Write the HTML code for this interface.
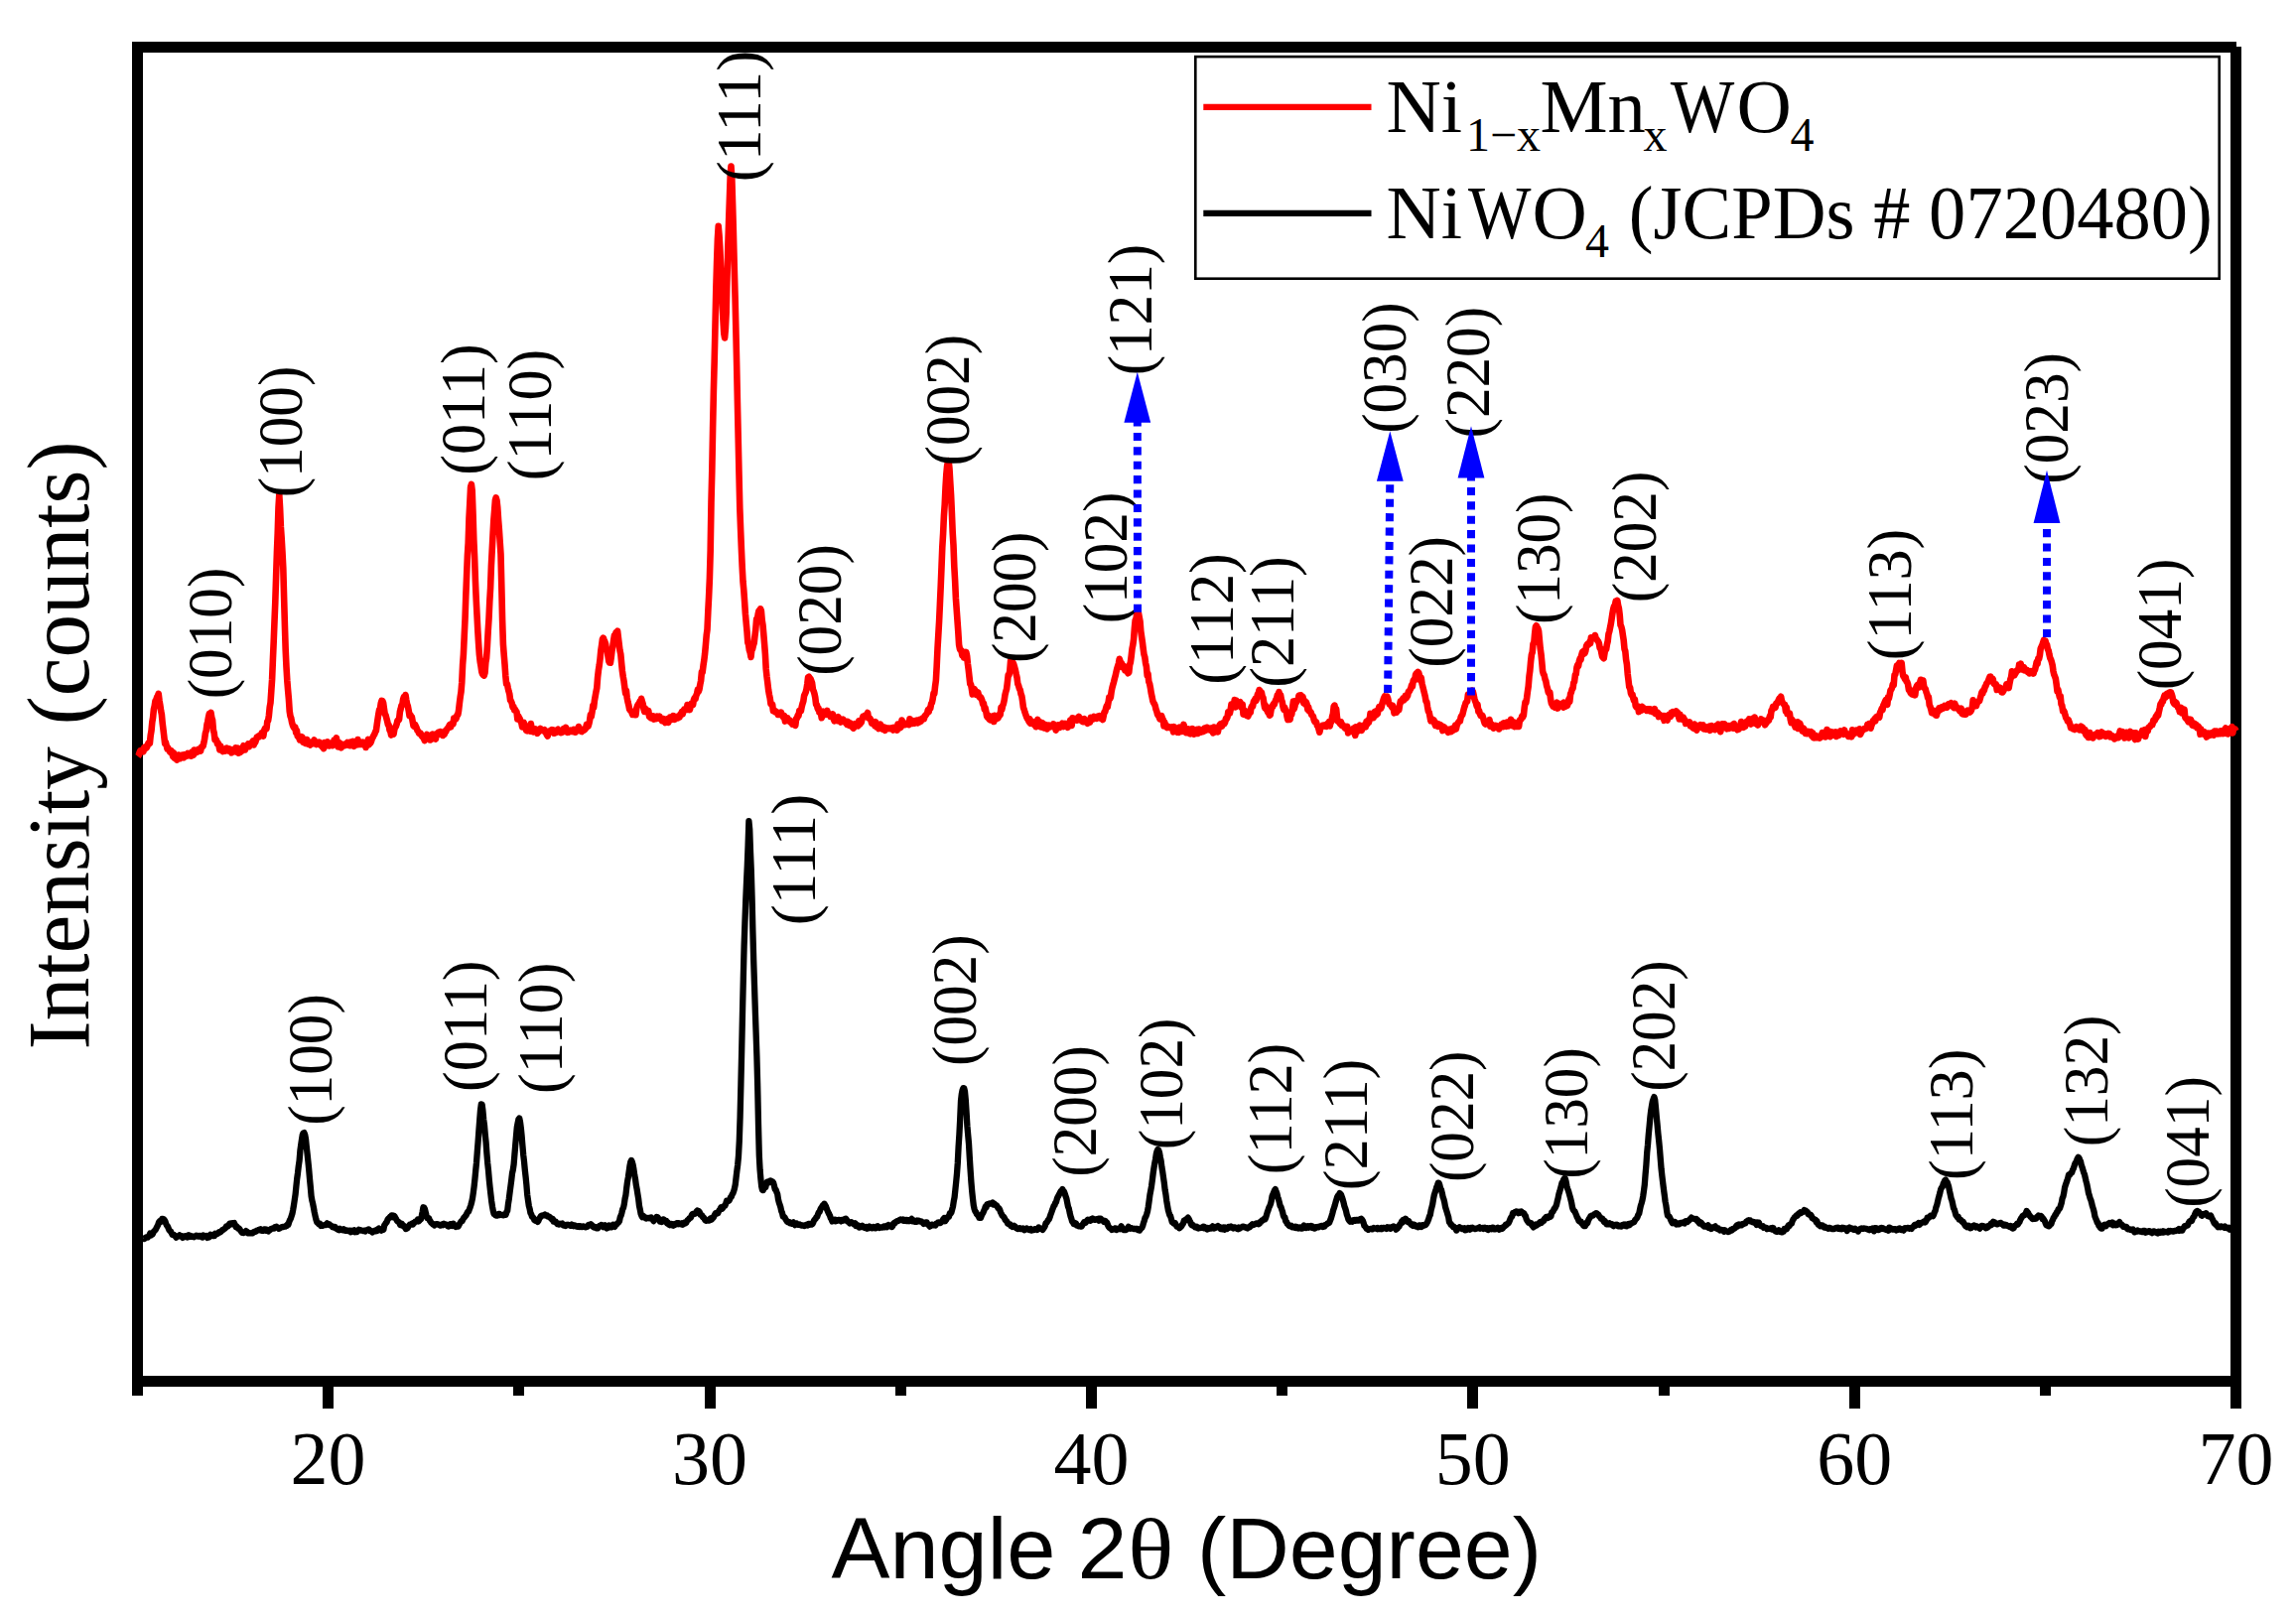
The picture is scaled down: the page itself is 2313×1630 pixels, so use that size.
<!DOCTYPE html>
<html><head><meta charset="utf-8"><title>XRD pattern</title>
<style>html,body{margin:0;padding:0;background:#fff}svg{display:block}</style></head>
<body>
<svg width="2313" height="1630" viewBox="0 0 2313 1630">
<rect x="0" y="0" width="2313" height="1630" fill="#fff"/>
<g fill="#000" shape-rendering="crispEdges">
<rect x="133" y="42" width="2120" height="11"/>
<rect x="133" y="1386" width="2125" height="10.9"/>
<rect x="133" y="42" width="11" height="1364"/>
<rect x="2247" y="47" width="11" height="1372"/>
<rect x="325.1" y="1390" width="11" height="29"/>
<rect x="709.5" y="1390" width="11" height="29"/>
<rect x="1093.9" y="1390" width="11" height="29"/>
<rect x="1478.3" y="1390" width="11" height="29"/>
<rect x="1862.7" y="1390" width="11" height="29"/>
<rect x="517.3" y="1390" width="11" height="16"/>
<rect x="901.7" y="1390" width="11" height="16"/>
<rect x="1286.1" y="1390" width="11" height="16"/>
<rect x="1670.5" y="1390" width="11" height="16"/>
<rect x="2054.9" y="1390" width="11" height="16"/>
</g>
<path d="M144.0,1247.6 L144.8,1248.1 L145.6,1247.9 L146.4,1246.8 L147.2,1246.6 L148.0,1246.3 L148.8,1246.6 L149.6,1245.5 L150.4,1244.7 L151.2,1242.5 L152.0,1244.6 L152.8,1243.9 L153.6,1243.6 L154.4,1241.7 L155.2,1240.2 L156.0,1239.6 L156.8,1238.8 L157.6,1237.0 L158.4,1235.5 L159.2,1234.0 L160.0,1231.4 L160.8,1230.3 L161.6,1231.2 L162.4,1229.8 L163.2,1228.0 L164.0,1227.9 L164.8,1228.2 L165.6,1229.0 L166.4,1230.4 L167.2,1232.7 L168.0,1234.5 L168.8,1235.4 L169.6,1237.1 L170.4,1239.1 L171.2,1240.1 L172.0,1240.5 L172.8,1242.2 L173.6,1243.8 L174.4,1243.9 L175.2,1243.9 L176.0,1244.9 L176.8,1245.5 L177.6,1246.7 L178.4,1245.6 L179.2,1245.6 L180.0,1245.0 L180.8,1244.3 L181.6,1245.4 L182.4,1245.6 L183.2,1245.3 L184.0,1246.9 L184.8,1246.6 L185.6,1245.8 L186.4,1245.2 L187.2,1245.7 L188.0,1245.1 L188.8,1246.5 L189.6,1246.3 L190.4,1244.3 L191.2,1245.0 L192.0,1244.9 L192.8,1245.8 L193.6,1245.4 L194.4,1245.9 L195.2,1246.3 L196.0,1245.4 L196.8,1245.5 L197.6,1244.7 L198.4,1245.3 L199.2,1244.9 L200.0,1245.6 L200.8,1245.1 L201.6,1244.9 L202.4,1245.7 L203.2,1246.3 L204.0,1246.6 L204.8,1244.5 L205.6,1245.8 L206.4,1245.6 L207.2,1245.2 L208.0,1244.9 L208.8,1246.9 L209.6,1245.9 L210.4,1246.5 L211.2,1245.9 L212.0,1243.8 L212.8,1244.5 L213.6,1244.1 L214.4,1244.9 L215.2,1245.2 L216.0,1245.2 L216.8,1242.8 L217.6,1243.0 L218.4,1243.0 L219.2,1243.0 L220.0,1242.1 L220.8,1241.2 L221.6,1241.5 L222.4,1240.9 L223.2,1240.2 L224.0,1239.1 L224.8,1238.9 L225.6,1238.3 L226.4,1237.7 L227.2,1236.9 L228.0,1235.4 L228.8,1235.1 L229.6,1235.4 L230.4,1234.1 L231.2,1232.8 L232.0,1233.7 L232.8,1232.6 L233.6,1233.1 L234.4,1232.1 L235.2,1232.2 L236.0,1232.0 L236.8,1234.1 L237.6,1236.0 L238.4,1235.5 L239.2,1236.5 L240.0,1237.7 L240.8,1237.4 L241.6,1238.7 L242.4,1239.8 L243.2,1240.9 L244.0,1241.8 L244.8,1241.5 L245.6,1242.0 L246.4,1241.1 L247.2,1241.3 L248.0,1240.2 L248.8,1240.8 L249.6,1242.3 L250.4,1241.8 L251.2,1242.3 L252.0,1242.1 L252.8,1242.4 L253.6,1242.3 L254.4,1242.4 L255.2,1241.5 L256.0,1241.0 L256.8,1240.9 L257.6,1240.7 L258.4,1239.9 L259.2,1239.7 L260.0,1239.3 L260.8,1239.0 L261.6,1238.6 L262.4,1238.2 L263.2,1239.7 L264.0,1239.8 L264.8,1239.9 L265.6,1239.3 L266.4,1238.4 L267.2,1238.3 L268.0,1239.8 L268.8,1238.9 L269.6,1239.8 L270.4,1240.5 L271.2,1239.1 L272.0,1239.1 L272.8,1238.2 L273.6,1237.7 L274.4,1237.5 L275.2,1237.5 L276.0,1237.5 L276.8,1236.2 L277.6,1236.3 L278.4,1235.7 L279.2,1236.6 L280.0,1236.9 L280.8,1237.9 L281.6,1237.6 L282.4,1236.9 L283.2,1236.5 L284.0,1236.2 L284.8,1235.9 L285.6,1236.0 L286.4,1235.6 L287.2,1235.7 L288.0,1234.9 L288.8,1235.0 L289.6,1233.5 L290.4,1233.7 L291.2,1231.2 L292.0,1229.1 L292.8,1227.7 L293.6,1225.3 L294.4,1222.8 L295.2,1218.8 L296.0,1214.1 L296.8,1208.6 L297.6,1203.3 L298.4,1195.3 L299.2,1187.5 L300.0,1181.7 L300.8,1174.6 L301.6,1169.3 L302.4,1159.2 L303.2,1153.3 L304.0,1147.9 L304.8,1143.1 L305.6,1141.4 L306.4,1141.1 L307.2,1143.1 L308.0,1147.3 L308.8,1155.4 L309.6,1162.3 L310.4,1170.0 L311.2,1178.1 L312.0,1187.6 L312.8,1195.7 L313.6,1205.0 L314.4,1209.6 L315.2,1212.8 L316.0,1216.9 L316.8,1221.4 L317.6,1225.1 L318.4,1228.5 L319.2,1231.2 L320.0,1231.8 L320.8,1232.7 L321.6,1233.5 L322.4,1232.8 L323.2,1234.9 L324.0,1234.6 L324.8,1234.9 L325.6,1234.5 L326.4,1234.3 L327.2,1234.1 L328.0,1234.2 L328.8,1233.8 L329.6,1232.4 L330.4,1233.5 L331.2,1233.8 L332.0,1233.5 L332.8,1234.4 L333.6,1234.8 L334.4,1235.2 L335.2,1236.3 L336.0,1236.5 L336.8,1235.8 L337.6,1236.0 L338.4,1237.5 L339.2,1238.1 L340.0,1238.3 L340.8,1239.0 L341.6,1239.2 L342.4,1237.8 L343.2,1238.5 L344.0,1239.0 L344.8,1239.2 L345.6,1239.3 L346.4,1238.3 L347.2,1238.8 L348.0,1239.9 L348.8,1239.9 L349.6,1239.5 L350.4,1240.0 L351.2,1240.0 L352.0,1239.7 L352.8,1239.7 L353.6,1241.3 L354.4,1239.7 L355.2,1240.4 L356.0,1239.9 L356.8,1239.3 L357.6,1241.2 L358.4,1241.0 L359.2,1240.1 L360.0,1240.8 L360.8,1239.8 L361.6,1238.7 L362.4,1239.1 L363.2,1239.3 L364.0,1239.6 L364.8,1239.6 L365.6,1239.9 L366.4,1240.1 L367.2,1239.7 L368.0,1240.4 L368.8,1239.5 L369.6,1239.1 L370.4,1239.1 L371.2,1238.4 L372.0,1238.8 L372.8,1240.1 L373.6,1239.8 L374.4,1240.4 L375.2,1241.3 L376.0,1240.6 L376.8,1240.5 L377.6,1239.7 L378.4,1240.2 L379.2,1239.0 L380.0,1239.9 L380.8,1238.2 L381.6,1237.5 L382.4,1238.8 L383.2,1239.2 L384.0,1239.7 L384.8,1238.3 L385.6,1238.2 L386.4,1238.7 L387.2,1234.3 L388.0,1233.4 L388.8,1231.8 L389.6,1231.3 L390.4,1228.9 L391.2,1227.6 L392.0,1227.1 L392.8,1226.0 L393.6,1226.3 L394.4,1224.5 L395.2,1224.5 L396.0,1226.1 L396.8,1224.8 L397.6,1225.6 L398.4,1227.1 L399.2,1228.3 L400.0,1229.9 L400.8,1230.6 L401.6,1230.9 L402.4,1232.1 L403.2,1234.1 L404.0,1234.2 L404.8,1232.8 L405.6,1234.7 L406.4,1234.5 L407.2,1235.8 L408.0,1236.2 L408.8,1238.0 L409.6,1237.7 L410.4,1237.4 L411.2,1236.1 L412.0,1234.6 L412.8,1233.6 L413.6,1233.8 L414.4,1233.2 L415.2,1232.6 L416.0,1233.4 L416.8,1232.4 L417.6,1231.6 L418.4,1230.7 L419.2,1230.6 L420.0,1230.3 L420.8,1228.6 L421.6,1230.4 L422.4,1229.8 L423.2,1228.8 L424.0,1228.2 L424.8,1224.9 L425.6,1221.1 L426.4,1216.3 L427.2,1216.5 L428.0,1218.2 L428.8,1221.4 L429.6,1224.6 L430.4,1227.1 L431.2,1227.0 L432.0,1227.1 L432.8,1229.5 L433.6,1230.3 L434.4,1232.0 L435.2,1232.2 L436.0,1233.2 L436.8,1233.1 L437.6,1234.5 L438.4,1233.6 L439.2,1233.3 L440.0,1233.1 L440.8,1233.1 L441.6,1233.7 L442.4,1233.7 L443.2,1234.5 L444.0,1234.6 L444.8,1233.8 L445.6,1233.3 L446.4,1234.1 L447.2,1232.9 L448.0,1233.6 L448.8,1233.5 L449.6,1233.6 L450.4,1234.3 L451.2,1235.4 L452.0,1235.5 L452.8,1234.9 L453.6,1233.1 L454.4,1233.3 L455.2,1233.8 L456.0,1235.0 L456.8,1232.8 L457.6,1234.7 L458.4,1235.0 L459.2,1235.9 L460.0,1235.3 L460.8,1235.3 L461.6,1235.6 L462.4,1234.0 L463.2,1232.5 L464.0,1231.4 L464.8,1230.1 L465.6,1230.0 L466.4,1228.4 L467.2,1226.8 L468.0,1226.2 L468.8,1225.0 L469.6,1224.2 L470.4,1222.3 L471.2,1220.9 L472.0,1220.7 L472.8,1218.5 L473.6,1216.4 L474.4,1213.9 L475.2,1210.9 L476.0,1207.1 L476.8,1201.6 L477.6,1195.4 L478.4,1187.9 L479.2,1179.4 L480.0,1171.3 L480.8,1160.3 L481.6,1150.2 L482.4,1139.1 L483.2,1128.6 L484.0,1118.3 L484.8,1112.4 L485.6,1112.7 L486.4,1118.7 L487.2,1127.8 L488.0,1133.7 L488.8,1143.3 L489.6,1150.9 L490.4,1161.9 L491.2,1171.6 L492.0,1179.0 L492.8,1188.4 L493.6,1196.2 L494.4,1203.3 L495.2,1210.2 L496.0,1215.5 L496.8,1219.8 L497.6,1223.1 L498.4,1223.0 L499.2,1224.3 L500.0,1224.6 L500.8,1224.6 L501.6,1224.2 L502.4,1223.0 L503.2,1223.0 L504.0,1224.0 L504.8,1223.8 L505.6,1223.8 L506.4,1224.2 L507.2,1224.3 L508.0,1223.5 L508.8,1223.5 L509.6,1223.7 L510.4,1221.0 L511.2,1219.7 L512.0,1212.7 L512.8,1207.7 L513.6,1201.1 L514.4,1195.1 L515.2,1189.0 L516.0,1182.0 L516.8,1178.5 L517.6,1173.0 L518.4,1163.3 L519.2,1153.7 L520.0,1144.6 L520.8,1135.5 L521.6,1131.4 L522.4,1127.6 L523.2,1126.5 L524.0,1130.2 L524.8,1136.4 L525.6,1144.3 L526.4,1154.1 L527.2,1163.3 L528.0,1170.0 L528.8,1178.6 L529.6,1185.7 L530.4,1193.7 L531.2,1203.6 L532.0,1209.2 L532.8,1214.7 L533.6,1217.7 L534.4,1221.9 L535.2,1223.3 L536.0,1225.7 L536.8,1226.3 L537.6,1227.3 L538.4,1229.1 L539.2,1229.7 L540.0,1230.2 L540.8,1229.9 L541.6,1231.0 L542.4,1229.9 L543.2,1227.8 L544.0,1226.7 L544.8,1225.2 L545.6,1224.7 L546.4,1224.4 L547.2,1224.5 L548.0,1224.1 L548.8,1223.6 L549.6,1224.5 L550.4,1224.6 L551.2,1224.5 L552.0,1225.5 L552.8,1225.4 L553.6,1225.9 L554.4,1226.8 L555.2,1227.2 L556.0,1228.4 L556.8,1228.0 L557.6,1230.5 L558.4,1230.2 L559.2,1231.0 L560.0,1230.8 L560.8,1232.4 L561.6,1233.1 L562.4,1233.3 L563.2,1233.6 L564.0,1232.8 L564.8,1233.2 L565.6,1233.0 L566.4,1232.6 L567.2,1234.2 L568.0,1234.5 L568.8,1234.8 L569.6,1235.0 L570.4,1234.0 L571.2,1233.9 L572.0,1233.7 L572.8,1234.2 L573.6,1234.3 L574.4,1234.7 L575.2,1234.9 L576.0,1233.6 L576.8,1234.3 L577.6,1235.1 L578.4,1234.3 L579.2,1234.5 L580.0,1235.3 L580.8,1235.6 L581.6,1235.8 L582.4,1235.2 L583.2,1235.1 L584.0,1235.9 L584.8,1235.2 L585.6,1235.6 L586.4,1236.1 L587.2,1235.3 L588.0,1235.3 L588.8,1235.8 L589.6,1236.3 L590.4,1236.3 L591.2,1235.9 L592.0,1235.7 L592.8,1234.0 L593.6,1233.8 L594.4,1233.9 L595.2,1233.3 L596.0,1233.9 L596.8,1235.1 L597.6,1236.0 L598.4,1236.6 L599.2,1235.9 L600.0,1236.3 L600.8,1237.2 L601.6,1236.4 L602.4,1237.1 L603.2,1236.2 L604.0,1234.8 L604.8,1234.7 L605.6,1234.0 L606.4,1235.2 L607.2,1234.5 L608.0,1236.1 L608.8,1235.7 L609.6,1234.4 L610.4,1236.4 L611.2,1237.5 L612.0,1236.4 L612.8,1236.7 L613.6,1234.5 L614.4,1235.7 L615.2,1235.1 L616.0,1236.3 L616.8,1234.7 L617.6,1233.8 L618.4,1235.2 L619.2,1235.8 L620.0,1233.7 L620.8,1233.9 L621.6,1233.0 L622.4,1232.0 L623.2,1231.3 L624.0,1230.0 L624.8,1226.1 L625.6,1224.5 L626.4,1221.8 L627.2,1218.3 L628.0,1216.8 L628.8,1213.1 L629.6,1207.5 L630.4,1204.0 L631.2,1196.9 L632.0,1190.7 L632.8,1186.2 L633.6,1180.6 L634.4,1174.9 L635.2,1170.8 L636.0,1168.9 L636.8,1170.5 L637.6,1173.3 L638.4,1177.8 L639.2,1183.7 L640.0,1187.7 L640.8,1193.7 L641.6,1197.8 L642.4,1203.0 L643.2,1207.8 L644.0,1214.9 L644.8,1218.5 L645.6,1222.9 L646.4,1225.0 L647.2,1226.2 L648.0,1224.9 L648.8,1225.8 L649.6,1226.2 L650.4,1227.2 L651.2,1227.5 L652.0,1226.9 L652.8,1227.2 L653.6,1226.9 L654.4,1227.4 L655.2,1226.8 L656.0,1226.4 L656.8,1227.4 L657.6,1228.6 L658.4,1230.1 L659.2,1228.3 L660.0,1228.2 L660.8,1228.2 L661.6,1225.9 L662.4,1226.3 L663.2,1227.3 L664.0,1228.6 L664.8,1230.6 L665.6,1230.2 L666.4,1230.9 L667.2,1229.9 L668.0,1228.4 L668.8,1228.6 L669.6,1230.5 L670.4,1230.1 L671.2,1229.9 L672.0,1232.3 L672.8,1231.6 L673.6,1233.5 L674.4,1234.1 L675.2,1233.2 L676.0,1233.0 L676.8,1234.1 L677.6,1233.4 L678.4,1234.6 L679.2,1233.3 L680.0,1233.9 L680.8,1232.9 L681.6,1232.3 L682.4,1232.1 L683.2,1233.2 L684.0,1232.3 L684.8,1233.2 L685.6,1233.1 L686.4,1233.5 L687.2,1232.2 L688.0,1233.6 L688.8,1232.3 L689.6,1231.6 L690.4,1232.4 L691.2,1231.9 L692.0,1230.2 L692.8,1229.0 L693.6,1228.6 L694.4,1227.5 L695.2,1227.0 L696.0,1226.6 L696.8,1224.2 L697.6,1223.0 L698.4,1222.8 L699.2,1222.7 L700.0,1222.9 L700.8,1222.2 L701.6,1220.5 L702.4,1219.7 L703.2,1220.6 L704.0,1220.2 L704.8,1221.2 L705.6,1223.9 L706.4,1224.0 L707.2,1224.4 L708.0,1226.3 L708.8,1226.4 L709.6,1227.7 L710.4,1229.2 L711.2,1229.8 L712.0,1229.7 L712.8,1229.6 L713.6,1229.2 L714.4,1229.5 L715.2,1227.7 L716.0,1227.3 L716.8,1228.6 L717.6,1226.8 L718.4,1227.0 L719.2,1225.6 L720.0,1223.7 L720.8,1222.3 L721.6,1222.8 L722.4,1222.5 L723.2,1222.1 L724.0,1220.3 L724.8,1219.1 L725.6,1217.8 L726.4,1216.3 L727.2,1218.0 L728.0,1217.1 L728.8,1215.8 L729.6,1214.8 L730.4,1214.7 L731.2,1212.6 L732.0,1209.8 L732.8,1210.3 L733.6,1210.2 L734.4,1209.7 L735.2,1208.3 L736.0,1206.0 L736.8,1205.6 L737.6,1203.3 L738.4,1202.2 L739.2,1200.0 L740.0,1197.1 L740.8,1193.1 L741.6,1186.2 L742.4,1179.4 L743.2,1173.3 L744.0,1164.6 L744.8,1149.1 L745.6,1125.0 L746.4,1092.5 L747.2,1057.7 L748.0,1020.5 L748.8,986.4 L749.6,953.7 L750.4,930.2 L751.2,908.3 L752.0,889.7 L752.8,872.2 L753.6,851.6 L754.4,827.1 L755.2,835.2 L756.0,858.1 L756.8,877.3 L757.6,904.8 L758.4,938.3 L759.2,967.7 L760.0,992.5 L760.8,1017.3 L761.6,1040.4 L762.4,1064.0 L763.2,1093.8 L764.0,1132.5 L764.8,1164.0 L765.6,1178.6 L766.4,1187.8 L767.2,1195.4 L768.0,1198.9 L768.8,1199.1 L769.6,1197.1 L770.4,1195.0 L771.2,1196.2 L772.0,1192.8 L772.8,1190.7 L773.6,1191.2 L774.4,1191.3 L775.2,1190.0 L776.0,1189.5 L776.8,1189.6 L777.6,1191.0 L778.4,1190.6 L779.2,1191.8 L780.0,1194.9 L780.8,1198.2 L781.6,1198.6 L782.4,1201.0 L783.2,1202.9 L784.0,1208.2 L784.8,1211.4 L785.6,1213.8 L786.4,1216.3 L787.2,1220.2 L788.0,1221.9 L788.8,1225.5 L789.6,1225.6 L790.4,1226.3 L791.2,1227.8 L792.0,1229.1 L792.8,1230.5 L793.6,1231.2 L794.4,1231.4 L795.2,1231.2 L796.0,1232.3 L796.8,1231.9 L797.6,1232.6 L798.4,1231.9 L799.2,1231.4 L800.0,1232.9 L800.8,1234.1 L801.6,1232.8 L802.4,1232.4 L803.2,1233.5 L804.0,1233.8 L804.8,1233.9 L805.6,1233.5 L806.4,1234.2 L807.2,1234.7 L808.0,1234.6 L808.8,1234.4 L809.6,1234.9 L810.4,1235.0 L811.2,1234.5 L812.0,1234.0 L812.8,1233.7 L813.6,1234.5 L814.4,1232.8 L815.2,1232.9 L816.0,1233.7 L816.8,1233.2 L817.6,1233.6 L818.4,1233.1 L819.2,1231.7 L820.0,1229.5 L820.8,1228.6 L821.6,1227.8 L822.4,1226.2 L823.2,1225.9 L824.0,1223.4 L824.8,1221.3 L825.6,1220.9 L826.4,1218.5 L827.2,1216.9 L828.0,1215.9 L828.8,1214.3 L829.6,1214.6 L830.4,1212.7 L831.2,1214.0 L832.0,1215.4 L832.8,1217.7 L833.6,1219.6 L834.4,1221.4 L835.2,1223.1 L836.0,1224.5 L836.8,1227.1 L837.6,1228.2 L838.4,1230.4 L839.2,1230.1 L840.0,1229.6 L840.8,1228.8 L841.6,1230.2 L842.4,1229.1 L843.2,1229.8 L844.0,1229.3 L844.8,1229.0 L845.6,1228.9 L846.4,1229.5 L847.2,1230.3 L848.0,1229.0 L848.8,1229.7 L849.6,1228.8 L850.4,1229.3 L851.2,1227.9 L852.0,1227.6 L852.8,1228.5 L853.6,1230.4 L854.4,1230.9 L855.2,1231.3 L856.0,1232.4 L856.8,1231.4 L857.6,1231.1 L858.4,1232.1 L859.2,1232.1 L860.0,1232.9 L860.8,1233.7 L861.6,1232.4 L862.4,1235.1 L863.2,1234.8 L864.0,1234.4 L864.8,1234.6 L865.6,1236.6 L866.4,1236.2 L867.2,1236.2 L868.0,1236.2 L868.8,1234.9 L869.6,1235.9 L870.4,1236.1 L871.2,1236.9 L872.0,1237.1 L872.8,1236.2 L873.6,1237.6 L874.4,1236.4 L875.2,1237.2 L876.0,1235.5 L876.8,1236.6 L877.6,1236.5 L878.4,1237.3 L879.2,1237.0 L880.0,1236.0 L880.8,1236.6 L881.6,1237.3 L882.4,1237.3 L883.2,1235.7 L884.0,1235.2 L884.8,1236.3 L885.6,1237.0 L886.4,1236.7 L887.2,1236.3 L888.0,1236.7 L888.8,1236.5 L889.6,1236.4 L890.4,1235.6 L891.2,1236.3 L892.0,1236.0 L892.8,1235.2 L893.6,1236.1 L894.4,1235.1 L895.2,1234.1 L896.0,1234.9 L896.8,1234.9 L897.6,1235.6 L898.4,1236.1 L899.2,1235.2 L900.0,1232.8 L900.8,1232.0 L901.6,1232.2 L902.4,1230.9 L903.2,1230.6 L904.0,1230.0 L904.8,1230.1 L905.6,1229.5 L906.4,1229.0 L907.2,1228.4 L908.0,1229.0 L908.8,1228.7 L909.6,1228.5 L910.4,1229.9 L911.2,1229.8 L912.0,1229.0 L912.8,1229.8 L913.6,1229.0 L914.4,1230.0 L915.2,1229.3 L916.0,1230.1 L916.8,1229.3 L917.6,1228.7 L918.4,1227.9 L919.2,1230.2 L920.0,1229.2 L920.8,1229.9 L921.6,1230.7 L922.4,1230.3 L923.2,1230.8 L924.0,1229.5 L924.8,1230.1 L925.6,1229.7 L926.4,1230.4 L927.2,1230.5 L928.0,1230.3 L928.8,1230.9 L929.6,1231.9 L930.4,1232.9 L931.2,1232.5 L932.0,1232.4 L932.8,1231.3 L933.6,1231.4 L934.4,1233.1 L935.2,1234.0 L936.0,1234.7 L936.8,1235.6 L937.6,1235.0 L938.4,1233.8 L939.2,1233.6 L940.0,1234.3 L940.8,1234.2 L941.6,1233.7 L942.4,1234.4 L943.2,1232.6 L944.0,1232.6 L944.8,1231.6 L945.6,1231.5 L946.4,1231.9 L947.2,1232.1 L948.0,1231.4 L948.8,1230.8 L949.6,1229.6 L950.4,1228.0 L951.2,1227.1 L952.0,1230.3 L952.8,1229.2 L953.6,1228.2 L954.4,1226.5 L955.2,1225.6 L956.0,1225.8 L956.8,1222.4 L957.6,1222.6 L958.4,1221.5 L959.2,1218.4 L960.0,1215.5 L960.8,1210.1 L961.6,1206.2 L962.4,1198.5 L963.2,1190.7 L964.0,1182.4 L964.8,1171.4 L965.6,1155.4 L966.4,1143.0 L967.2,1127.4 L968.0,1109.1 L968.8,1102.1 L969.6,1098.1 L970.4,1096.1 L971.2,1096.3 L972.0,1099.6 L972.8,1108.0 L973.6,1120.6 L974.4,1134.3 L975.2,1143.3 L976.0,1152.1 L976.8,1166.3 L977.6,1178.9 L978.4,1190.6 L979.2,1200.1 L980.0,1207.7 L980.8,1214.3 L981.6,1218.0 L982.4,1220.3 L983.2,1221.3 L984.0,1223.1 L984.8,1223.9 L985.6,1224.2 L986.4,1226.9 L987.2,1226.9 L988.0,1226.8 L988.8,1224.6 L989.6,1222.9 L990.4,1221.7 L991.2,1219.8 L992.0,1217.8 L992.8,1215.4 L993.6,1216.2 L994.4,1213.3 L995.2,1213.1 L996.0,1213.0 L996.8,1212.5 L997.6,1212.6 L998.4,1212.7 L999.2,1212.4 L1000.0,1211.6 L1000.8,1213.6 L1001.6,1212.5 L1002.4,1213.9 L1003.2,1213.9 L1004.0,1214.4 L1004.8,1215.8 L1005.6,1217.3 L1006.4,1217.2 L1007.2,1218.7 L1008.0,1221.3 L1008.8,1222.7 L1009.6,1224.7 L1010.4,1225.2 L1011.2,1226.0 L1012.0,1227.4 L1012.8,1229.1 L1013.6,1229.9 L1014.4,1230.6 L1015.2,1232.7 L1016.0,1233.2 L1016.8,1233.3 L1017.6,1233.4 L1018.4,1235.0 L1019.2,1235.1 L1020.0,1235.9 L1020.8,1235.3 L1021.6,1234.8 L1022.4,1235.3 L1023.2,1236.5 L1024.0,1237.4 L1024.8,1237.7 L1025.6,1238.0 L1026.4,1237.5 L1027.2,1237.2 L1028.0,1238.1 L1028.8,1238.0 L1029.6,1238.2 L1030.4,1237.5 L1031.2,1238.5 L1032.0,1239.3 L1032.8,1238.7 L1033.6,1237.6 L1034.4,1237.5 L1035.2,1238.1 L1036.0,1238.7 L1036.8,1239.2 L1037.6,1238.9 L1038.4,1238.2 L1039.2,1239.5 L1040.0,1238.7 L1040.8,1238.9 L1041.6,1239.0 L1042.4,1238.2 L1043.2,1238.2 L1044.0,1238.5 L1044.8,1239.1 L1045.6,1238.5 L1046.4,1236.5 L1047.2,1237.7 L1048.0,1237.6 L1048.8,1238.0 L1049.6,1238.0 L1050.4,1238.9 L1051.2,1237.6 L1052.0,1236.5 L1052.8,1235.0 L1053.6,1232.1 L1054.4,1231.8 L1055.2,1230.6 L1056.0,1229.1 L1056.8,1228.3 L1057.6,1226.2 L1058.4,1223.6 L1059.2,1221.6 L1060.0,1219.2 L1060.8,1217.1 L1061.6,1214.9 L1062.4,1214.2 L1063.2,1211.7 L1064.0,1210.9 L1064.8,1207.7 L1065.6,1205.8 L1066.4,1204.5 L1067.2,1202.9 L1068.0,1201.3 L1068.8,1199.9 L1069.6,1199.6 L1070.4,1198.0 L1071.2,1200.2 L1072.0,1200.5 L1072.8,1202.8 L1073.6,1205.2 L1074.4,1207.5 L1075.2,1211.7 L1076.0,1215.6 L1076.8,1217.5 L1077.6,1221.5 L1078.4,1224.9 L1079.2,1227.3 L1080.0,1230.3 L1080.8,1231.2 L1081.6,1232.8 L1082.4,1231.8 L1083.2,1233.5 L1084.0,1232.6 L1084.8,1234.5 L1085.6,1234.5 L1086.4,1235.2 L1087.2,1235.4 L1088.0,1235.3 L1088.8,1235.6 L1089.6,1235.6 L1090.4,1234.0 L1091.2,1232.9 L1092.0,1231.4 L1092.8,1232.0 L1093.6,1231.9 L1094.4,1230.6 L1095.2,1229.4 L1096.0,1228.7 L1096.8,1228.9 L1097.6,1229.5 L1098.4,1229.8 L1099.2,1228.2 L1100.0,1229.0 L1100.8,1227.5 L1101.6,1228.2 L1102.4,1228.4 L1103.2,1228.9 L1104.0,1228.5 L1104.8,1228.2 L1105.6,1228.5 L1106.4,1227.9 L1107.2,1229.6 L1108.0,1227.7 L1108.8,1227.6 L1109.6,1228.5 L1110.4,1229.2 L1111.2,1229.3 L1112.0,1230.9 L1112.8,1231.3 L1113.6,1230.1 L1114.4,1231.1 L1115.2,1231.6 L1116.0,1234.1 L1116.8,1235.8 L1117.6,1236.8 L1118.4,1237.5 L1119.2,1237.6 L1120.0,1238.9 L1120.8,1238.3 L1121.6,1238.5 L1122.4,1238.2 L1123.2,1237.5 L1124.0,1237.4 L1124.8,1238.9 L1125.6,1238.0 L1126.4,1238.0 L1127.2,1237.7 L1128.0,1238.2 L1128.8,1236.8 L1129.6,1235.2 L1130.4,1237.0 L1131.2,1238.3 L1132.0,1239.1 L1132.8,1238.5 L1133.6,1239.1 L1134.4,1238.9 L1135.2,1238.3 L1136.0,1237.0 L1136.8,1235.9 L1137.6,1237.1 L1138.4,1237.7 L1139.2,1236.9 L1140.0,1237.3 L1140.8,1237.7 L1141.6,1237.8 L1142.4,1238.1 L1143.2,1238.0 L1144.0,1237.9 L1144.8,1238.1 L1145.6,1238.0 L1146.4,1239.1 L1147.2,1239.3 L1148.0,1239.6 L1148.8,1238.3 L1149.6,1237.4 L1150.4,1236.8 L1151.2,1234.9 L1152.0,1232.0 L1152.8,1229.7 L1153.6,1226.6 L1154.4,1225.6 L1155.2,1223.2 L1156.0,1220.4 L1156.8,1215.7 L1157.6,1210.0 L1158.4,1203.8 L1159.2,1199.6 L1160.0,1195.2 L1160.8,1189.1 L1161.6,1182.5 L1162.4,1177.0 L1163.2,1172.2 L1164.0,1168.0 L1164.8,1162.6 L1165.6,1159.6 L1166.4,1158.0 L1167.2,1158.8 L1168.0,1161.1 L1168.8,1165.6 L1169.6,1169.5 L1170.4,1175.9 L1171.2,1180.4 L1172.0,1186.1 L1172.8,1191.6 L1173.6,1198.6 L1174.4,1203.1 L1175.2,1209.4 L1176.0,1214.3 L1176.8,1218.8 L1177.6,1221.7 L1178.4,1224.3 L1179.2,1225.2 L1180.0,1228.2 L1180.8,1231.1 L1181.6,1231.3 L1182.4,1232.5 L1183.2,1232.8 L1184.0,1232.4 L1184.8,1234.3 L1185.6,1235.7 L1186.4,1235.6 L1187.2,1235.8 L1188.0,1237.3 L1188.8,1236.6 L1189.6,1236.0 L1190.4,1235.0 L1191.2,1233.5 L1192.0,1232.5 L1192.8,1229.7 L1193.6,1230.1 L1194.4,1228.6 L1195.2,1228.3 L1196.0,1227.5 L1196.8,1226.7 L1197.6,1227.9 L1198.4,1229.7 L1199.2,1231.1 L1200.0,1233.5 L1200.8,1234.4 L1201.6,1234.0 L1202.4,1235.1 L1203.2,1235.3 L1204.0,1236.4 L1204.8,1236.2 L1205.6,1235.8 L1206.4,1237.3 L1207.2,1237.5 L1208.0,1237.3 L1208.8,1237.0 L1209.6,1236.9 L1210.4,1236.8 L1211.2,1236.5 L1212.0,1235.8 L1212.8,1237.3 L1213.6,1236.1 L1214.4,1237.0 L1215.2,1237.7 L1216.0,1238.4 L1216.8,1237.0 L1217.6,1237.9 L1218.4,1237.1 L1219.2,1236.9 L1220.0,1237.4 L1220.8,1236.6 L1221.6,1235.4 L1222.4,1237.2 L1223.2,1237.5 L1224.0,1237.1 L1224.8,1236.0 L1225.6,1236.2 L1226.4,1236.3 L1227.2,1235.2 L1228.0,1236.0 L1228.8,1236.4 L1229.6,1237.9 L1230.4,1236.8 L1231.2,1238.2 L1232.0,1237.5 L1232.8,1236.6 L1233.6,1238.7 L1234.4,1236.6 L1235.2,1237.4 L1236.0,1238.0 L1236.8,1236.9 L1237.6,1236.1 L1238.4,1236.7 L1239.2,1235.9 L1240.0,1235.5 L1240.8,1236.1 L1241.6,1236.8 L1242.4,1237.4 L1243.2,1236.4 L1244.0,1236.5 L1244.8,1237.0 L1245.6,1237.3 L1246.4,1238.0 L1247.2,1238.2 L1248.0,1236.5 L1248.8,1237.7 L1249.6,1237.0 L1250.4,1236.6 L1251.2,1236.0 L1252.0,1235.6 L1252.8,1235.6 L1253.6,1236.3 L1254.4,1236.1 L1255.2,1236.7 L1256.0,1237.0 L1256.8,1237.4 L1257.6,1236.4 L1258.4,1236.0 L1259.2,1236.2 L1260.0,1234.6 L1260.8,1234.5 L1261.6,1233.3 L1262.4,1234.0 L1263.2,1233.7 L1264.0,1233.4 L1264.8,1232.8 L1265.6,1232.3 L1266.4,1232.5 L1267.2,1232.4 L1268.0,1233.2 L1268.8,1232.7 L1269.6,1230.8 L1270.4,1230.9 L1271.2,1229.4 L1272.0,1229.5 L1272.8,1228.7 L1273.6,1227.8 L1274.4,1228.3 L1275.2,1226.6 L1276.0,1223.9 L1276.8,1221.0 L1277.6,1219.0 L1278.4,1216.4 L1279.2,1214.8 L1280.0,1212.9 L1280.8,1209.6 L1281.6,1204.9 L1282.4,1203.2 L1283.2,1201.1 L1284.0,1199.1 L1284.8,1198.2 L1285.6,1200.5 L1286.4,1202.5 L1287.2,1206.0 L1288.0,1208.2 L1288.8,1211.2 L1289.6,1214.9 L1290.4,1215.7 L1291.2,1218.5 L1292.0,1220.7 L1292.8,1224.4 L1293.6,1226.2 L1294.4,1226.3 L1295.2,1230.5 L1296.0,1230.7 L1296.8,1232.8 L1297.6,1233.3 L1298.4,1234.6 L1299.2,1235.2 L1300.0,1235.2 L1300.8,1234.8 L1301.6,1236.3 L1302.4,1236.2 L1303.2,1236.3 L1304.0,1236.7 L1304.8,1235.8 L1305.6,1236.9 L1306.4,1236.1 L1307.2,1236.8 L1308.0,1237.4 L1308.8,1236.8 L1309.6,1236.4 L1310.4,1237.3 L1311.2,1237.7 L1312.0,1237.7 L1312.8,1236.0 L1313.6,1234.5 L1314.4,1235.9 L1315.2,1236.8 L1316.0,1237.1 L1316.8,1236.5 L1317.6,1235.4 L1318.4,1236.6 L1319.2,1235.3 L1320.0,1236.0 L1320.8,1235.2 L1321.6,1236.6 L1322.4,1235.6 L1323.2,1236.8 L1324.0,1237.6 L1324.8,1237.4 L1325.6,1236.2 L1326.4,1236.2 L1327.2,1236.0 L1328.0,1236.4 L1328.8,1235.8 L1329.6,1235.6 L1330.4,1235.2 L1331.2,1234.9 L1332.0,1235.0 L1332.8,1236.0 L1333.6,1235.4 L1334.4,1235.5 L1335.2,1234.0 L1336.0,1233.7 L1336.8,1233.3 L1337.6,1232.3 L1338.4,1232.3 L1339.2,1231.7 L1340.0,1229.5 L1340.8,1227.5 L1341.6,1224.8 L1342.4,1222.1 L1343.2,1218.8 L1344.0,1216.7 L1344.8,1214.0 L1345.6,1211.0 L1346.4,1208.3 L1347.2,1205.8 L1348.0,1204.4 L1348.8,1203.9 L1349.6,1202.1 L1350.4,1202.7 L1351.2,1204.0 L1352.0,1206.3 L1352.8,1208.8 L1353.6,1211.7 L1354.4,1215.2 L1355.2,1217.3 L1356.0,1219.9 L1356.8,1223.6 L1357.6,1225.6 L1358.4,1228.5 L1359.2,1229.6 L1360.0,1230.6 L1360.8,1229.8 L1361.6,1229.7 L1362.4,1230.6 L1363.2,1229.2 L1364.0,1229.2 L1364.8,1229.0 L1365.6,1229.7 L1366.4,1228.9 L1367.2,1229.0 L1368.0,1229.6 L1368.8,1229.6 L1369.6,1228.5 L1370.4,1228.1 L1371.2,1227.7 L1372.0,1228.5 L1372.8,1229.7 L1373.6,1231.9 L1374.4,1234.8 L1375.2,1235.4 L1376.0,1236.7 L1376.8,1237.8 L1377.6,1238.1 L1378.4,1238.8 L1379.2,1238.1 L1380.0,1238.2 L1380.8,1237.8 L1381.6,1238.0 L1382.4,1238.4 L1383.2,1237.9 L1384.0,1237.1 L1384.8,1237.6 L1385.6,1237.6 L1386.4,1237.5 L1387.2,1238.1 L1388.0,1237.2 L1388.8,1238.2 L1389.6,1238.2 L1390.4,1237.6 L1391.2,1237.1 L1392.0,1238.2 L1392.8,1237.8 L1393.6,1237.0 L1394.4,1236.9 L1395.2,1237.4 L1396.0,1237.3 L1396.8,1237.9 L1397.6,1236.4 L1398.4,1237.2 L1399.2,1236.5 L1400.0,1237.3 L1400.8,1237.8 L1401.6,1236.8 L1402.4,1236.0 L1403.2,1235.8 L1404.0,1235.4 L1404.8,1236.0 L1405.6,1236.9 L1406.4,1238.6 L1407.2,1238.0 L1408.0,1237.3 L1408.8,1235.5 L1409.6,1235.4 L1410.4,1233.2 L1411.2,1232.6 L1412.0,1230.5 L1412.8,1231.5 L1413.6,1229.1 L1414.4,1230.2 L1415.2,1229.3 L1416.0,1227.7 L1416.8,1229.0 L1417.6,1230.7 L1418.4,1231.2 L1419.2,1230.2 L1420.0,1231.8 L1420.8,1232.6 L1421.6,1233.7 L1422.4,1234.0 L1423.2,1234.8 L1424.0,1233.5 L1424.8,1233.7 L1425.6,1234.6 L1426.4,1235.6 L1427.2,1235.7 L1428.0,1235.0 L1428.8,1236.2 L1429.6,1234.3 L1430.4,1234.4 L1431.2,1234.9 L1432.0,1235.8 L1432.8,1234.2 L1433.6,1234.2 L1434.4,1234.7 L1435.2,1234.3 L1436.0,1234.1 L1436.8,1233.2 L1437.6,1231.7 L1438.4,1230.2 L1439.2,1228.1 L1440.0,1225.3 L1440.8,1223.9 L1441.6,1219.3 L1442.4,1216.2 L1443.2,1213.0 L1444.0,1208.0 L1444.8,1203.9 L1445.6,1201.4 L1446.4,1199.2 L1447.2,1196.0 L1448.0,1194.2 L1448.8,1191.6 L1449.6,1191.8 L1450.4,1194.1 L1451.2,1197.6 L1452.0,1198.7 L1452.8,1201.9 L1453.6,1205.8 L1454.4,1208.0 L1455.2,1211.3 L1456.0,1215.8 L1456.8,1218.4 L1457.6,1220.9 L1458.4,1223.6 L1459.2,1226.1 L1460.0,1231.4 L1460.8,1231.9 L1461.6,1233.9 L1462.4,1233.9 L1463.2,1234.8 L1464.0,1236.1 L1464.8,1235.9 L1465.6,1237.1 L1466.4,1237.6 L1467.2,1239.6 L1468.0,1238.5 L1468.8,1237.0 L1469.6,1237.3 L1470.4,1236.3 L1471.2,1236.9 L1472.0,1237.2 L1472.8,1238.0 L1473.6,1238.1 L1474.4,1237.4 L1475.2,1237.2 L1476.0,1239.3 L1476.8,1239.0 L1477.6,1239.0 L1478.4,1238.1 L1479.2,1237.0 L1480.0,1237.4 L1480.8,1238.6 L1481.6,1237.0 L1482.4,1237.2 L1483.2,1236.7 L1484.0,1237.4 L1484.8,1237.6 L1485.6,1237.9 L1486.4,1238.2 L1487.2,1237.7 L1488.0,1237.4 L1488.8,1237.3 L1489.6,1236.9 L1490.4,1236.4 L1491.2,1237.6 L1492.0,1237.1 L1492.8,1237.2 L1493.6,1236.9 L1494.4,1238.0 L1495.2,1237.0 L1496.0,1236.7 L1496.8,1237.1 L1497.6,1238.2 L1498.4,1237.4 L1499.2,1238.9 L1500.0,1238.2 L1500.8,1237.1 L1501.6,1237.4 L1502.4,1238.2 L1503.2,1236.7 L1504.0,1236.7 L1504.8,1237.8 L1505.6,1238.4 L1506.4,1238.4 L1507.2,1237.5 L1508.0,1237.2 L1508.8,1236.8 L1509.6,1237.5 L1510.4,1238.7 L1511.2,1237.6 L1512.0,1238.1 L1512.8,1237.1 L1513.6,1237.7 L1514.4,1236.5 L1515.2,1235.7 L1516.0,1235.3 L1516.8,1233.7 L1517.6,1234.0 L1518.4,1232.8 L1519.2,1232.7 L1520.0,1231.6 L1520.8,1229.7 L1521.6,1227.7 L1522.4,1226.1 L1523.2,1225.6 L1524.0,1222.3 L1524.8,1222.6 L1525.6,1221.8 L1526.4,1220.9 L1527.2,1221.3 L1528.0,1220.4 L1528.8,1220.9 L1529.6,1222.1 L1530.4,1220.7 L1531.2,1221.9 L1532.0,1221.6 L1532.8,1220.6 L1533.6,1221.6 L1534.4,1221.8 L1535.2,1222.2 L1536.0,1224.4 L1536.8,1224.8 L1537.6,1228.0 L1538.4,1229.6 L1539.2,1230.7 L1540.0,1231.7 L1540.8,1231.6 L1541.6,1232.4 L1542.4,1232.2 L1543.2,1234.3 L1544.0,1235.1 L1544.8,1236.4 L1545.6,1234.5 L1546.4,1235.3 L1547.2,1233.6 L1548.0,1234.4 L1548.8,1233.6 L1549.6,1233.3 L1550.4,1232.4 L1551.2,1231.3 L1552.0,1230.9 L1552.8,1231.8 L1553.6,1230.9 L1554.4,1230.0 L1555.2,1229.9 L1556.0,1227.7 L1556.8,1226.9 L1557.6,1226.1 L1558.4,1227.0 L1559.2,1227.1 L1560.0,1225.5 L1560.8,1226.1 L1561.6,1225.9 L1562.4,1225.3 L1563.2,1221.3 L1564.0,1221.1 L1564.8,1220.0 L1565.6,1217.7 L1566.4,1217.4 L1567.2,1215.7 L1568.0,1213.9 L1568.8,1210.1 L1569.6,1207.2 L1570.4,1203.0 L1571.2,1200.5 L1572.0,1197.6 L1572.8,1194.5 L1573.6,1191.4 L1574.4,1190.8 L1575.2,1188.3 L1576.0,1187.2 L1576.8,1187.4 L1577.6,1190.3 L1578.4,1194.9 L1579.2,1197.7 L1580.0,1199.7 L1580.8,1202.5 L1581.6,1205.3 L1582.4,1208.4 L1583.2,1211.7 L1584.0,1216.4 L1584.8,1218.6 L1585.6,1219.9 L1586.4,1220.4 L1587.2,1222.2 L1588.0,1224.1 L1588.8,1226.3 L1589.6,1227.4 L1590.4,1229.7 L1591.2,1230.5 L1592.0,1231.1 L1592.8,1230.8 L1593.6,1232.6 L1594.4,1233.3 L1595.2,1234.7 L1596.0,1235.1 L1596.8,1235.2 L1597.6,1233.7 L1598.4,1231.8 L1599.2,1232.2 L1600.0,1229.6 L1600.8,1227.9 L1601.6,1226.8 L1602.4,1225.2 L1603.2,1225.1 L1604.0,1224.3 L1604.8,1224.5 L1605.6,1223.7 L1606.4,1223.1 L1607.2,1222.9 L1608.0,1222.1 L1608.8,1222.5 L1609.6,1223.5 L1610.4,1223.9 L1611.2,1225.5 L1612.0,1226.2 L1612.8,1227.5 L1613.6,1228.0 L1614.4,1227.8 L1615.2,1229.5 L1616.0,1231.0 L1616.8,1230.2 L1617.6,1231.9 L1618.4,1233.3 L1619.2,1233.0 L1620.0,1233.4 L1620.8,1233.4 L1621.6,1232.4 L1622.4,1233.2 L1623.2,1233.6 L1624.0,1233.3 L1624.8,1234.6 L1625.6,1235.2 L1626.4,1234.1 L1627.2,1234.0 L1628.0,1233.9 L1628.8,1233.6 L1629.6,1235.0 L1630.4,1235.3 L1631.2,1234.7 L1632.0,1235.3 L1632.8,1235.5 L1633.6,1235.5 L1634.4,1234.1 L1635.2,1233.7 L1636.0,1233.7 L1636.8,1233.5 L1637.6,1235.1 L1638.4,1235.3 L1639.2,1233.6 L1640.0,1233.2 L1640.8,1232.9 L1641.6,1234.1 L1642.4,1233.3 L1643.2,1232.5 L1644.0,1232.2 L1644.8,1231.7 L1645.6,1231.5 L1646.4,1230.9 L1647.2,1229.0 L1648.0,1228.2 L1648.8,1227.5 L1649.6,1225.8 L1650.4,1223.6 L1651.2,1222.6 L1652.0,1218.7 L1652.8,1214.9 L1653.6,1212.4 L1654.4,1209.5 L1655.2,1205.3 L1656.0,1199.6 L1656.8,1193.5 L1657.6,1183.1 L1658.4,1173.7 L1659.2,1161.2 L1660.0,1153.2 L1660.8,1142.7 L1661.6,1134.5 L1662.4,1125.6 L1663.2,1119.0 L1664.0,1114.0 L1664.8,1109.5 L1665.6,1107.2 L1666.4,1105.1 L1667.2,1107.9 L1668.0,1115.9 L1668.8,1125.1 L1669.6,1133.1 L1670.4,1142.0 L1671.2,1149.3 L1672.0,1157.8 L1672.8,1167.8 L1673.6,1177.7 L1674.4,1184.8 L1675.2,1191.6 L1676.0,1198.2 L1676.8,1204.0 L1677.6,1210.5 L1678.4,1214.5 L1679.2,1220.4 L1680.0,1224.8 L1680.8,1225.2 L1681.6,1225.6 L1682.4,1227.0 L1683.2,1229.2 L1684.0,1230.8 L1684.8,1232.2 L1685.6,1232.0 L1686.4,1230.8 L1687.2,1230.9 L1688.0,1232.6 L1688.8,1233.4 L1689.6,1232.4 L1690.4,1233.4 L1691.2,1233.4 L1692.0,1233.0 L1692.8,1232.1 L1693.6,1231.9 L1694.4,1232.1 L1695.2,1231.7 L1696.0,1232.1 L1696.8,1232.5 L1697.6,1230.5 L1698.4,1230.1 L1699.2,1230.5 L1700.0,1230.9 L1700.8,1229.6 L1701.6,1229.7 L1702.4,1228.1 L1703.2,1227.8 L1704.0,1226.7 L1704.8,1227.6 L1705.6,1227.7 L1706.4,1227.7 L1707.2,1228.2 L1708.0,1228.3 L1708.8,1228.0 L1709.6,1229.8 L1710.4,1229.4 L1711.2,1231.4 L1712.0,1232.3 L1712.8,1231.1 L1713.6,1231.6 L1714.4,1232.5 L1715.2,1234.1 L1716.0,1234.2 L1716.8,1235.5 L1717.6,1235.6 L1718.4,1235.7 L1719.2,1235.8 L1720.0,1235.2 L1720.8,1234.3 L1721.6,1237.0 L1722.4,1236.7 L1723.2,1236.3 L1724.0,1238.0 L1724.8,1237.0 L1725.6,1236.5 L1726.4,1236.4 L1727.2,1235.8 L1728.0,1235.3 L1728.8,1237.4 L1729.6,1237.6 L1730.4,1238.1 L1731.2,1237.6 L1732.0,1238.6 L1732.8,1239.4 L1733.6,1238.9 L1734.4,1238.8 L1735.2,1239.5 L1736.0,1239.3 L1736.8,1240.8 L1737.6,1239.3 L1738.4,1240.1 L1739.2,1240.4 L1740.0,1240.4 L1740.8,1241.0 L1741.6,1240.9 L1742.4,1240.6 L1743.2,1239.6 L1744.0,1238.8 L1744.8,1239.4 L1745.6,1237.9 L1746.4,1238.1 L1747.2,1237.6 L1748.0,1237.1 L1748.8,1235.7 L1749.6,1234.6 L1750.4,1235.4 L1751.2,1233.8 L1752.0,1233.5 L1752.8,1233.9 L1753.6,1234.3 L1754.4,1234.4 L1755.2,1233.2 L1756.0,1233.4 L1756.8,1232.7 L1757.6,1232.6 L1758.4,1232.3 L1759.2,1230.8 L1760.0,1230.5 L1760.8,1229.6 L1761.6,1229.2 L1762.4,1229.9 L1763.2,1229.5 L1764.0,1230.6 L1764.8,1230.6 L1765.6,1231.2 L1766.4,1230.9 L1767.2,1231.7 L1768.0,1231.5 L1768.8,1232.3 L1769.6,1233.9 L1770.4,1231.6 L1771.2,1232.5 L1772.0,1231.9 L1772.8,1234.0 L1773.6,1234.8 L1774.4,1235.3 L1775.2,1235.6 L1776.0,1235.2 L1776.8,1236.8 L1777.6,1236.4 L1778.4,1236.7 L1779.2,1236.9 L1780.0,1238.1 L1780.8,1237.6 L1781.6,1237.6 L1782.4,1237.9 L1783.2,1237.9 L1784.0,1237.3 L1784.8,1238.4 L1785.6,1237.0 L1786.4,1237.1 L1787.2,1238.8 L1788.0,1239.8 L1788.8,1240.6 L1789.6,1240.7 L1790.4,1240.9 L1791.2,1240.2 L1792.0,1239.3 L1792.8,1240.7 L1793.6,1240.4 L1794.4,1241.2 L1795.2,1241.4 L1796.0,1240.0 L1796.8,1240.5 L1797.6,1238.0 L1798.4,1238.3 L1799.2,1238.4 L1800.0,1238.2 L1800.8,1236.2 L1801.6,1234.6 L1802.4,1235.3 L1803.2,1233.6 L1804.0,1233.2 L1804.8,1232.7 L1805.6,1230.3 L1806.4,1228.5 L1807.2,1227.5 L1808.0,1226.1 L1808.8,1225.6 L1809.6,1224.5 L1810.4,1224.9 L1811.2,1224.0 L1812.0,1222.4 L1812.8,1222.6 L1813.6,1221.3 L1814.4,1221.9 L1815.2,1221.1 L1816.0,1221.2 L1816.8,1220.3 L1817.6,1219.2 L1818.4,1220.3 L1819.2,1219.8 L1820.0,1220.8 L1820.8,1220.9 L1821.6,1223.1 L1822.4,1223.6 L1823.2,1223.8 L1824.0,1223.6 L1824.8,1224.9 L1825.6,1227.2 L1826.4,1227.4 L1827.2,1228.1 L1828.0,1228.5 L1828.8,1228.6 L1829.6,1231.0 L1830.4,1230.1 L1831.2,1232.7 L1832.0,1233.9 L1832.8,1233.9 L1833.6,1235.2 L1834.4,1234.9 L1835.2,1234.4 L1836.0,1234.3 L1836.8,1235.8 L1837.6,1236.5 L1838.4,1235.9 L1839.2,1236.8 L1840.0,1236.7 L1840.8,1237.2 L1841.6,1237.8 L1842.4,1236.8 L1843.2,1236.9 L1844.0,1237.5 L1844.8,1237.5 L1845.6,1238.1 L1846.4,1238.2 L1847.2,1238.1 L1848.0,1237.9 L1848.8,1237.2 L1849.6,1237.0 L1850.4,1237.0 L1851.2,1237.6 L1852.0,1236.7 L1852.8,1237.1 L1853.6,1238.0 L1854.4,1238.1 L1855.2,1238.3 L1856.0,1236.9 L1856.8,1237.7 L1857.6,1237.0 L1858.4,1237.4 L1859.2,1238.1 L1860.0,1237.5 L1860.8,1239.9 L1861.6,1238.2 L1862.4,1237.7 L1863.2,1236.5 L1864.0,1237.9 L1864.8,1237.9 L1865.6,1237.5 L1866.4,1238.0 L1867.2,1238.8 L1868.0,1238.1 L1868.8,1237.8 L1869.6,1239.2 L1870.4,1239.1 L1871.2,1239.2 L1872.0,1240.5 L1872.8,1238.8 L1873.6,1238.1 L1874.4,1238.0 L1875.2,1237.5 L1876.0,1237.8 L1876.8,1237.9 L1877.6,1237.5 L1878.4,1237.6 L1879.2,1237.8 L1880.0,1237.8 L1880.8,1238.0 L1881.6,1238.6 L1882.4,1238.8 L1883.2,1239.2 L1884.0,1238.3 L1884.8,1238.0 L1885.6,1238.8 L1886.4,1237.5 L1887.2,1239.0 L1888.0,1240.3 L1888.8,1237.1 L1889.6,1238.8 L1890.4,1237.3 L1891.2,1238.5 L1892.0,1239.1 L1892.8,1238.9 L1893.6,1237.6 L1894.4,1237.2 L1895.2,1236.9 L1896.0,1238.0 L1896.8,1237.3 L1897.6,1237.6 L1898.4,1238.1 L1899.2,1238.6 L1900.0,1238.9 L1900.8,1238.7 L1901.6,1238.0 L1902.4,1239.6 L1903.2,1236.6 L1904.0,1238.2 L1904.8,1237.3 L1905.6,1238.1 L1906.4,1238.5 L1907.2,1238.6 L1908.0,1238.5 L1908.8,1238.2 L1909.6,1238.1 L1910.4,1239.4 L1911.2,1238.4 L1912.0,1238.8 L1912.8,1237.7 L1913.6,1237.4 L1914.4,1238.4 L1915.2,1239.0 L1916.0,1238.4 L1916.8,1239.0 L1917.6,1239.6 L1918.4,1237.5 L1919.2,1237.1 L1920.0,1237.7 L1920.8,1237.3 L1921.6,1236.8 L1922.4,1237.0 L1923.2,1237.7 L1924.0,1237.4 L1924.8,1237.6 L1925.6,1237.9 L1926.4,1236.4 L1927.2,1236.1 L1928.0,1235.3 L1928.8,1234.0 L1929.6,1234.8 L1930.4,1233.6 L1931.2,1233.2 L1932.0,1232.9 L1932.8,1232.0 L1933.6,1233.9 L1934.4,1232.4 L1935.2,1232.3 L1936.0,1231.6 L1936.8,1231.6 L1937.6,1230.9 L1938.4,1230.4 L1939.2,1231.5 L1940.0,1230.7 L1940.8,1229.3 L1941.6,1226.6 L1942.4,1227.2 L1943.2,1226.8 L1944.0,1225.6 L1944.8,1224.6 L1945.6,1224.9 L1946.4,1225.1 L1947.2,1225.3 L1948.0,1223.8 L1948.8,1221.3 L1949.6,1219.8 L1950.4,1216.1 L1951.2,1214.1 L1952.0,1210.7 L1952.8,1207.1 L1953.6,1204.5 L1954.4,1201.4 L1955.2,1197.9 L1956.0,1196.4 L1956.8,1195.7 L1957.6,1192.7 L1958.4,1191.0 L1959.2,1189.2 L1960.0,1188.6 L1960.8,1190.7 L1961.6,1190.8 L1962.4,1193.2 L1963.2,1195.8 L1964.0,1199.9 L1964.8,1203.5 L1965.6,1207.3 L1966.4,1209.5 L1967.2,1213.2 L1968.0,1217.0 L1968.8,1218.5 L1969.6,1221.2 L1970.4,1224.2 L1971.2,1225.0 L1972.0,1226.5 L1972.8,1225.9 L1973.6,1228.5 L1974.4,1228.5 L1975.2,1228.7 L1976.0,1229.9 L1976.8,1231.1 L1977.6,1230.8 L1978.4,1232.3 L1979.2,1233.8 L1980.0,1235.0 L1980.8,1234.6 L1981.6,1236.2 L1982.4,1234.9 L1983.2,1234.7 L1984.0,1235.3 L1984.8,1237.3 L1985.6,1237.2 L1986.4,1235.3 L1987.2,1235.2 L1988.0,1235.5 L1988.8,1234.5 L1989.6,1235.3 L1990.4,1236.4 L1991.2,1235.2 L1992.0,1235.7 L1992.8,1236.0 L1993.6,1236.9 L1994.4,1237.6 L1995.2,1236.1 L1996.0,1235.0 L1996.8,1234.8 L1997.6,1235.8 L1998.4,1235.2 L1999.2,1235.6 L2000.0,1236.8 L2000.8,1237.3 L2001.6,1236.9 L2002.4,1235.4 L2003.2,1235.8 L2004.0,1234.6 L2004.8,1234.5 L2005.6,1232.9 L2006.4,1233.9 L2007.2,1232.2 L2008.0,1230.7 L2008.8,1232.3 L2009.6,1231.7 L2010.4,1232.8 L2011.2,1232.8 L2012.0,1233.4 L2012.8,1233.0 L2013.6,1232.5 L2014.4,1232.4 L2015.2,1231.8 L2016.0,1232.1 L2016.8,1233.3 L2017.6,1233.1 L2018.4,1234.6 L2019.2,1234.7 L2020.0,1233.6 L2020.8,1233.9 L2021.6,1234.3 L2022.4,1234.9 L2023.2,1235.3 L2024.0,1235.6 L2024.8,1236.1 L2025.6,1235.1 L2026.4,1235.8 L2027.2,1237.5 L2028.0,1237.5 L2028.8,1236.9 L2029.6,1234.8 L2030.4,1234.7 L2031.2,1234.2 L2032.0,1232.7 L2032.8,1233.4 L2033.6,1231.9 L2034.4,1231.2 L2035.2,1228.9 L2036.0,1227.4 L2036.8,1226.3 L2037.6,1225.1 L2038.4,1224.5 L2039.2,1224.2 L2040.0,1223.2 L2040.8,1222.4 L2041.6,1220.1 L2042.4,1220.9 L2043.2,1221.9 L2044.0,1224.2 L2044.8,1224.6 L2045.6,1226.0 L2046.4,1226.4 L2047.2,1227.7 L2048.0,1228.0 L2048.8,1227.6 L2049.6,1227.7 L2050.4,1227.8 L2051.2,1227.6 L2052.0,1225.9 L2052.8,1226.1 L2053.6,1224.6 L2054.4,1225.6 L2055.2,1225.4 L2056.0,1224.9 L2056.8,1225.7 L2057.6,1228.1 L2058.4,1227.8 L2059.2,1229.0 L2060.0,1230.4 L2060.8,1232.6 L2061.6,1234.3 L2062.4,1234.7 L2063.2,1234.1 L2064.0,1235.3 L2064.8,1234.7 L2065.6,1233.3 L2066.4,1233.0 L2067.2,1230.3 L2068.0,1228.9 L2068.8,1226.7 L2069.6,1226.0 L2070.4,1223.7 L2071.2,1223.4 L2072.0,1221.0 L2072.8,1220.8 L2073.6,1218.2 L2074.4,1218.3 L2075.2,1216.9 L2076.0,1214.3 L2076.8,1211.7 L2077.6,1207.3 L2078.4,1205.5 L2079.2,1201.9 L2080.0,1196.6 L2080.8,1193.8 L2081.6,1191.6 L2082.4,1189.4 L2083.2,1186.9 L2084.0,1183.4 L2084.8,1183.9 L2085.6,1182.8 L2086.4,1181.6 L2087.2,1181.3 L2088.0,1178.6 L2088.8,1177.2 L2089.6,1174.7 L2090.4,1172.1 L2091.2,1171.0 L2092.0,1169.2 L2092.8,1167.2 L2093.6,1165.8 L2094.4,1166.4 L2095.2,1168.3 L2096.0,1170.0 L2096.8,1173.8 L2097.6,1175.9 L2098.4,1178.7 L2099.2,1181.3 L2100.0,1183.2 L2100.8,1186.8 L2101.6,1190.3 L2102.4,1193.3 L2103.2,1197.3 L2104.0,1201.9 L2104.8,1204.2 L2105.6,1207.2 L2106.4,1209.0 L2107.2,1212.1 L2108.0,1215.4 L2108.8,1217.9 L2109.6,1220.9 L2110.4,1225.4 L2111.2,1227.5 L2112.0,1229.3 L2112.8,1231.8 L2113.6,1231.9 L2114.4,1234.9 L2115.2,1235.6 L2116.0,1237.0 L2116.8,1237.7 L2117.6,1237.6 L2118.4,1235.8 L2119.2,1234.2 L2120.0,1233.8 L2120.8,1235.0 L2121.6,1235.2 L2122.4,1233.9 L2123.2,1233.3 L2124.0,1232.6 L2124.8,1232.1 L2125.6,1232.9 L2126.4,1232.3 L2127.2,1232.8 L2128.0,1231.5 L2128.8,1234.3 L2129.6,1232.5 L2130.4,1233.6 L2131.2,1234.2 L2132.0,1233.2 L2132.8,1233.9 L2133.6,1232.7 L2134.4,1232.0 L2135.2,1231.1 L2136.0,1232.7 L2136.8,1233.6 L2137.6,1233.7 L2138.4,1234.9 L2139.2,1235.8 L2140.0,1235.9 L2140.8,1236.1 L2141.6,1235.9 L2142.4,1236.1 L2143.2,1238.0 L2144.0,1238.4 L2144.8,1238.4 L2145.6,1238.4 L2146.4,1239.0 L2147.2,1238.6 L2148.0,1238.7 L2148.8,1238.4 L2149.6,1240.0 L2150.4,1241.3 L2151.2,1240.5 L2152.0,1240.8 L2152.8,1240.6 L2153.6,1239.6 L2154.4,1240.3 L2155.2,1240.2 L2156.0,1240.6 L2156.8,1240.5 L2157.6,1240.9 L2158.4,1241.1 L2159.2,1240.0 L2160.0,1240.1 L2160.8,1240.0 L2161.6,1241.7 L2162.4,1241.1 L2163.2,1241.0 L2164.0,1240.7 L2164.8,1240.2 L2165.6,1240.1 L2166.4,1241.4 L2167.2,1241.1 L2168.0,1242.1 L2168.8,1240.7 L2169.6,1240.3 L2170.4,1240.5 L2171.2,1241.1 L2172.0,1241.5 L2172.8,1242.0 L2173.6,1242.4 L2174.4,1240.7 L2175.2,1241.8 L2176.0,1241.9 L2176.8,1240.8 L2177.6,1241.2 L2178.4,1241.6 L2179.2,1240.2 L2180.0,1241.4 L2180.8,1241.0 L2181.6,1241.1 L2182.4,1241.0 L2183.2,1240.6 L2184.0,1241.4 L2184.8,1240.1 L2185.6,1240.7 L2186.4,1240.0 L2187.2,1240.4 L2188.0,1240.1 L2188.8,1240.6 L2189.6,1240.5 L2190.4,1240.0 L2191.2,1240.1 L2192.0,1240.0 L2192.8,1239.8 L2193.6,1239.0 L2194.4,1239.6 L2195.2,1238.0 L2196.0,1239.6 L2196.8,1238.9 L2197.6,1239.2 L2198.4,1239.5 L2199.2,1237.5 L2200.0,1236.9 L2200.8,1235.2 L2201.6,1235.3 L2202.4,1234.7 L2203.2,1234.8 L2204.0,1234.4 L2204.8,1231.9 L2205.6,1230.7 L2206.4,1230.0 L2207.2,1229.4 L2208.0,1229.9 L2208.8,1227.5 L2209.6,1226.1 L2210.4,1225.6 L2211.2,1223.0 L2212.0,1221.3 L2212.8,1220.4 L2213.6,1219.9 L2214.4,1220.7 L2215.2,1220.8 L2216.0,1222.4 L2216.8,1222.6 L2217.6,1224.4 L2218.4,1224.7 L2219.2,1223.4 L2220.0,1223.1 L2220.8,1222.9 L2221.6,1223.3 L2222.4,1222.3 L2223.2,1223.4 L2224.0,1225.0 L2224.8,1224.7 L2225.6,1225.6 L2226.4,1225.5 L2227.2,1224.7 L2228.0,1226.8 L2228.8,1228.2 L2229.6,1229.9 L2230.4,1231.8 L2231.2,1232.9 L2232.0,1232.4 L2232.8,1234.5 L2233.6,1234.9 L2234.4,1236.3 L2235.2,1236.1 L2236.0,1235.6 L2236.8,1236.2 L2237.6,1235.5 L2238.4,1235.6 L2239.2,1235.9 L2240.0,1236.4 L2240.8,1236.7 L2241.6,1235.7 L2242.4,1236.5 L2243.2,1236.9 L2244.0,1237.4 L2244.8,1237.8 L2245.6,1236.9 L2246.4,1238.7 L2247.0,1237.4" fill="none" stroke="#000" stroke-width="6.3" stroke-linejoin="round" stroke-linecap="butt"/>
<path d="M138.9,762.0 L139.7,761.0 L140.5,758.3 L141.3,756.4 L142.1,757.0 L142.9,755.8 L143.7,756.5 L144.5,757.2 L145.3,753.1 L146.1,752.4 L146.9,753.9 L147.7,753.1 L148.5,751.6 L149.3,748.9 L150.1,749.4 L150.9,748.8 L151.7,740.9 L152.5,736.2 L153.3,727.6 L154.1,722.7 L154.9,714.6 L155.7,711.2 L156.5,705.9 L157.3,705.2 L158.1,702.3 L158.9,701.1 L159.7,698.8 L160.5,705.5 L161.3,710.2 L162.1,715.9 L162.9,719.9 L163.7,728.7 L164.5,735.2 L165.3,741.9 L166.1,749.0 L166.9,747.8 L167.7,751.0 L168.5,754.4 L169.3,753.4 L170.1,755.5 L170.9,757.1 L171.7,757.9 L172.5,756.2 L173.3,758.8 L174.1,761.9 L174.9,758.2 L175.7,763.4 L176.5,762.8 L177.3,761.6 L178.1,765.7 L178.9,763.3 L179.7,760.5 L180.5,763.3 L181.3,764.1 L182.1,761.9 L182.9,762.4 L183.7,760.6 L184.5,761.7 L185.3,763.3 L186.1,760.2 L186.9,762.0 L187.7,760.7 L188.5,761.4 L189.3,758.9 L190.1,759.5 L190.9,759.9 L191.7,761.4 L192.5,761.7 L193.3,757.6 L194.1,758.5 L194.9,760.7 L195.7,755.5 L196.5,757.2 L197.3,756.6 L198.1,758.0 L198.9,756.6 L199.7,754.9 L200.5,754.6 L201.3,754.3 L202.1,756.6 L202.9,752.6 L203.7,752.1 L204.5,751.9 L205.3,748.6 L206.1,744.7 L206.9,738.8 L207.7,736.3 L208.5,729.8 L209.3,726.7 L210.1,722.2 L210.9,718.8 L211.7,718.9 L212.5,717.9 L213.3,722.9 L214.1,725.4 L214.9,735.5 L215.7,738.3 L216.5,745.2 L217.3,744.6 L218.1,745.8 L218.9,749.4 L219.7,748.6 L220.5,750.8 L221.3,755.3 L222.1,751.4 L222.9,753.1 L223.7,755.7 L224.5,757.0 L225.3,756.2 L226.1,755.8 L226.9,756.6 L227.7,756.0 L228.5,753.6 L229.3,755.7 L230.1,756.3 L230.9,754.4 L231.7,756.5 L232.5,754.9 L233.3,758.4 L234.1,757.5 L234.9,757.5 L235.7,756.2 L236.5,756.6 L237.3,753.3 L238.1,755.1 L238.9,757.9 L239.7,753.7 L240.5,758.7 L241.3,754.2 L242.1,757.9 L242.9,754.6 L243.7,756.7 L244.5,754.9 L245.3,751.2 L246.1,755.4 L246.9,755.5 L247.7,752.7 L248.5,752.0 L249.3,751.5 L250.1,749.3 L250.9,752.2 L251.7,749.5 L252.5,750.3 L253.3,748.3 L254.1,747.8 L254.9,746.4 L255.7,750.5 L256.5,747.1 L257.3,747.7 L258.1,744.8 L258.9,742.4 L259.7,742.2 L260.5,741.5 L261.3,742.2 L262.1,740.9 L262.9,740.4 L263.7,738.3 L264.5,738.8 L265.3,741.6 L266.1,736.0 L266.9,733.9 L267.7,734.6 L268.5,734.2 L269.3,726.8 L270.1,726.0 L270.9,720.9 L271.7,712.5 L272.5,708.0 L273.3,696.2 L274.1,684.5 L274.9,664.8 L275.7,646.4 L276.5,626.1 L277.3,606.7 L278.1,581.5 L278.9,557.1 L279.7,537.5 L280.5,511.4 L281.3,498.4 L282.1,512.0 L282.9,530.9 L283.7,542.6 L284.5,556.5 L285.3,572.2 L286.1,601.5 L286.9,629.5 L287.7,654.8 L288.5,672.0 L289.3,685.5 L290.1,695.2 L290.9,704.2 L291.7,716.4 L292.5,721.6 L293.3,723.6 L294.1,727.8 L294.9,730.6 L295.7,732.5 L296.5,733.6 L297.3,732.4 L298.1,737.8 L298.9,735.8 L299.7,741.6 L300.5,742.2 L301.3,743.3 L302.1,745.5 L302.9,745.5 L303.7,742.2 L304.5,742.5 L305.3,747.6 L306.1,744.8 L306.9,747.0 L307.7,748.9 L308.5,745.2 L309.3,745.0 L310.1,749.6 L310.9,749.8 L311.7,749.7 L312.5,750.5 L313.3,749.1 L314.1,747.6 L314.9,749.2 L315.7,747.1 L316.5,745.5 L317.3,749.3 L318.1,748.8 L318.9,749.9 L319.7,747.6 L320.5,748.0 L321.3,747.5 L322.1,748.1 L322.9,750.7 L323.7,749.8 L324.5,752.1 L325.3,751.8 L326.1,754.1 L326.9,748.0 L327.7,751.8 L328.5,749.9 L329.3,749.8 L330.1,747.3 L330.9,749.2 L331.7,751.4 L332.5,749.8 L333.3,749.9 L334.1,749.0 L334.9,751.2 L335.7,749.2 L336.5,745.6 L337.3,748.0 L338.1,745.6 L338.9,743.3 L339.7,748.5 L340.5,752.3 L341.3,750.1 L342.1,748.2 L342.9,749.2 L343.7,753.3 L344.5,751.5 L345.3,750.6 L346.1,749.9 L346.9,749.9 L347.7,751.0 L348.5,750.6 L349.3,750.1 L350.1,748.0 L350.9,750.5 L351.7,748.2 L352.5,751.2 L353.3,747.6 L354.1,749.7 L354.9,749.7 L355.7,747.0 L356.5,751.8 L357.3,751.4 L358.1,748.2 L358.9,750.5 L359.7,750.1 L360.5,745.1 L361.3,750.1 L362.1,749.7 L362.9,749.9 L363.7,747.6 L364.5,748.2 L365.3,747.8 L366.1,750.2 L366.9,749.6 L367.7,750.0 L368.5,753.0 L369.3,748.9 L370.1,748.2 L370.9,744.9 L371.7,750.2 L372.5,749.0 L373.3,748.4 L374.1,746.5 L374.9,743.8 L375.7,742.7 L376.5,740.9 L377.3,739.7 L378.1,737.4 L378.9,736.2 L379.7,730.3 L380.5,724.6 L381.3,719.5 L382.1,715.0 L382.9,714.2 L383.7,708.6 L384.5,705.8 L385.3,706.1 L386.1,708.0 L386.9,713.7 L387.7,719.1 L388.5,720.3 L389.3,723.3 L390.1,726.3 L390.9,730.1 L391.7,730.4 L392.5,735.6 L393.3,736.7 L394.1,740.6 L394.9,737.5 L395.7,738.9 L396.5,739.6 L397.3,735.1 L398.1,732.6 L398.9,731.6 L399.7,729.2 L400.5,725.7 L401.3,725.8 L402.1,724.7 L402.9,717.0 L403.7,714.1 L404.5,710.5 L405.3,710.2 L406.1,704.5 L406.9,702.2 L407.7,704.5 L408.5,700.1 L409.3,705.0 L410.1,709.3 L410.9,711.5 L411.7,715.8 L412.5,721.0 L413.3,720.0 L414.1,721.6 L414.9,722.4 L415.7,726.8 L416.5,731.2 L417.3,731.8 L418.1,730.1 L418.9,731.7 L419.7,733.4 L420.5,735.9 L421.3,736.8 L422.1,738.7 L422.9,739.3 L423.7,738.8 L424.5,740.5 L425.3,742.2 L426.1,742.3 L426.9,743.6 L427.7,746.0 L428.5,743.8 L429.3,742.7 L430.1,740.0 L430.9,744.2 L431.7,740.8 L432.5,741.8 L433.3,745.5 L434.1,745.1 L434.9,743.3 L435.7,739.7 L436.5,740.9 L437.3,739.9 L438.1,742.0 L438.9,744.6 L439.7,740.8 L440.5,738.9 L441.3,738.1 L442.1,739.7 L442.9,738.9 L443.7,737.1 L444.5,739.6 L445.3,737.7 L446.1,741.0 L446.9,740.1 L447.7,739.8 L448.5,736.4 L449.3,736.9 L450.1,734.7 L450.9,733.8 L451.7,733.5 L452.5,731.1 L453.3,729.9 L454.1,732.4 L454.9,729.4 L455.7,728.8 L456.5,729.2 L457.3,723.5 L458.1,724.0 L458.9,724.7 L459.7,723.6 L460.5,720.2 L461.3,720.1 L462.1,715.6 L462.9,708.3 L463.7,702.1 L464.5,697.1 L465.3,687.2 L466.1,669.8 L466.9,659.3 L467.7,641.3 L468.5,624.2 L469.3,600.7 L470.1,580.1 L470.9,559.6 L471.7,547.0 L472.5,522.0 L473.3,507.0 L474.1,490.6 L474.9,487.9 L475.7,494.4 L476.5,516.8 L477.3,543.4 L478.1,561.3 L478.9,585.1 L479.7,603.7 L480.5,619.4 L481.3,635.1 L482.1,648.2 L482.9,659.7 L483.7,666.6 L484.5,671.2 L485.3,676.9 L486.1,679.1 L486.9,680.0 L487.7,680.6 L488.5,677.9 L489.3,667.5 L490.1,662.9 L490.9,651.0 L491.7,635.9 L492.5,623.4 L493.3,605.7 L494.1,592.1 L494.9,569.9 L495.7,554.7 L496.5,539.3 L497.3,524.5 L498.1,514.5 L498.9,503.9 L499.7,501.3 L500.5,504.1 L501.3,511.6 L502.1,523.9 L502.9,534.0 L503.7,546.3 L504.5,558.3 L505.3,590.6 L506.1,624.9 L506.9,648.9 L507.7,659.6 L508.5,669.3 L509.3,680.7 L510.1,688.9 L510.9,688.9 L511.7,692.9 L512.5,696.4 L513.3,699.2 L514.1,705.5 L514.9,706.3 L515.7,708.4 L516.5,712.2 L517.3,711.7 L518.1,715.4 L518.9,714.7 L519.7,716.4 L520.5,717.2 L521.3,724.5 L522.1,721.1 L522.9,722.8 L523.7,724.2 L524.5,726.7 L525.3,728.2 L526.1,732.3 L526.9,728.0 L527.7,727.9 L528.5,730.0 L529.3,731.0 L530.1,735.8 L530.9,736.2 L531.7,732.9 L532.5,732.0 L533.3,733.8 L534.1,736.6 L534.9,729.1 L535.7,735.1 L536.5,733.2 L537.3,737.5 L538.1,734.5 L538.9,736.3 L539.7,734.5 L540.5,735.1 L541.3,738.8 L542.1,737.9 L542.9,736.2 L543.7,735.7 L544.5,733.9 L545.3,736.0 L546.1,735.9 L546.9,735.5 L547.7,735.9 L548.5,735.2 L549.3,737.8 L550.1,738.1 L550.9,740.4 L551.7,741.5 L552.5,738.1 L553.3,736.6 L554.1,737.1 L554.9,735.7 L555.7,735.3 L556.5,736.7 L557.3,735.4 L558.1,738.7 L558.9,737.8 L559.7,738.2 L560.5,737.1 L561.3,735.5 L562.1,734.8 L562.9,736.2 L563.7,736.1 L564.5,738.1 L565.3,738.1 L566.1,735.7 L566.9,737.4 L567.7,734.1 L568.5,734.8 L569.3,735.4 L570.1,732.9 L570.9,737.2 L571.7,737.9 L572.5,737.7 L573.3,737.3 L574.1,737.0 L574.9,735.6 L575.7,736.7 L576.5,736.2 L577.3,737.1 L578.1,734.8 L578.9,737.7 L579.7,737.7 L580.5,736.6 L581.3,734.7 L582.1,735.7 L582.9,732.0 L583.7,736.0 L584.5,736.1 L585.3,736.7 L586.1,737.1 L586.9,735.0 L587.7,734.7 L588.5,735.5 L589.3,734.8 L590.1,733.9 L590.9,729.9 L591.7,732.2 L592.5,731.6 L593.3,729.2 L594.1,725.6 L594.9,720.1 L595.7,721.8 L596.5,717.3 L597.3,710.8 L598.1,712.8 L598.9,705.8 L599.7,701.4 L600.5,696.9 L601.3,693.0 L602.1,682.3 L602.9,675.3 L603.7,670.4 L604.5,664.2 L605.3,655.6 L606.1,650.2 L606.9,644.1 L607.7,642.6 L608.5,644.6 L609.3,646.4 L610.1,648.8 L610.9,654.2 L611.7,655.4 L612.5,661.1 L613.3,666.1 L614.1,667.6 L614.9,667.7 L615.7,662.6 L616.5,655.7 L617.3,651.4 L618.1,645.2 L618.9,640.3 L619.7,640.7 L620.5,637.2 L621.3,637.0 L622.1,635.6 L622.9,642.5 L623.7,648.9 L624.5,655.6 L625.3,659.0 L626.1,667.8 L626.9,675.9 L627.7,681.5 L628.5,686.0 L629.3,692.4 L630.1,698.2 L630.9,695.7 L631.7,703.2 L632.5,707.1 L633.3,710.2 L634.1,714.5 L634.9,715.7 L635.7,716.2 L636.5,717.9 L637.3,719.9 L638.1,718.1 L638.9,719.2 L639.7,720.2 L640.5,720.2 L641.3,713.5 L642.1,711.0 L642.9,709.5 L643.7,710.2 L644.5,706.7 L645.3,708.1 L646.1,703.8 L646.9,706.6 L647.7,709.3 L648.5,714.1 L649.3,717.0 L650.1,713.8 L650.9,715.0 L651.7,717.4 L652.5,716.4 L653.3,716.1 L654.1,722.0 L654.9,722.5 L655.7,723.2 L656.5,721.3 L657.3,723.4 L658.1,721.4 L658.9,724.6 L659.7,722.1 L660.5,722.6 L661.3,724.0 L662.1,721.7 L662.9,723.5 L663.7,723.0 L664.5,721.8 L665.3,724.2 L666.1,723.8 L666.9,726.1 L667.7,723.8 L668.5,724.3 L669.3,726.7 L670.1,728.0 L670.9,727.4 L671.7,724.4 L672.5,725.1 L673.3,727.9 L674.1,724.8 L674.9,722.7 L675.7,724.1 L676.5,724.8 L677.3,722.6 L678.1,721.1 L678.9,721.4 L679.7,724.9 L680.5,722.0 L681.3,722.6 L682.1,722.9 L682.9,723.3 L683.7,721.5 L684.5,722.6 L685.3,719.6 L686.1,719.5 L686.9,717.1 L687.7,719.4 L688.5,716.4 L689.3,714.5 L690.1,714.4 L690.9,713.8 L691.7,714.7 L692.5,710.1 L693.3,710.4 L694.1,710.8 L694.9,715.1 L695.7,711.7 L696.5,708.9 L697.3,709.0 L698.1,710.1 L698.9,705.0 L699.7,703.2 L700.5,704.1 L701.3,700.8 L702.1,698.9 L702.9,694.7 L703.7,696.8 L704.5,694.4 L705.3,689.6 L706.1,685.9 L706.9,677.0 L707.7,677.1 L708.5,670.6 L709.3,665.3 L710.1,658.7 L710.9,649.9 L711.7,640.3 L712.5,634.3 L713.3,616.5 L714.1,601.2 L714.9,582.7 L715.7,554.7 L716.5,506.3 L717.3,474.2 L718.1,431.7 L718.9,393.8 L719.7,363.7 L720.5,328.7 L721.3,292.3 L722.1,264.0 L722.9,240.9 L723.7,227.9 L724.5,236.8 L725.3,249.1 L726.1,269.3 L726.9,284.4 L727.7,307.7 L728.5,322.9 L729.3,335.9 L730.1,340.4 L730.9,330.7 L731.7,314.5 L732.5,279.4 L733.3,249.7 L734.1,224.4 L734.9,200.8 L735.7,177.7 L736.5,167.5 L737.3,179.1 L738.1,205.6 L738.9,234.1 L739.7,266.9 L740.5,296.6 L741.3,329.4 L742.1,365.0 L742.9,404.2 L743.7,441.0 L744.5,477.7 L745.3,511.8 L746.1,533.2 L746.9,553.0 L747.7,571.1 L748.5,585.9 L749.3,594.5 L750.1,606.1 L750.9,618.3 L751.7,627.2 L752.5,635.9 L753.3,647.1 L754.1,649.5 L754.9,655.2 L755.7,657.4 L756.5,662.0 L757.3,654.6 L758.1,653.7 L758.9,650.1 L759.7,647.7 L760.5,640.4 L761.3,634.0 L762.1,623.9 L762.9,623.9 L763.7,618.8 L764.5,615.2 L765.3,615.3 L766.1,613.3 L766.9,615.5 L767.7,624.8 L768.5,629.8 L769.3,638.9 L770.1,648.8 L770.9,658.9 L771.7,674.0 L772.5,681.6 L773.3,687.8 L774.1,694.9 L774.9,699.6 L775.7,703.4 L776.5,709.2 L777.3,709.7 L778.1,709.5 L778.9,716.2 L779.7,716.2 L780.5,717.1 L781.3,716.4 L782.1,717.8 L782.9,717.6 L783.7,719.9 L784.5,718.5 L785.3,718.9 L786.1,719.9 L786.9,717.6 L787.7,720.4 L788.5,721.1 L789.3,722.9 L790.1,721.0 L790.9,726.6 L791.7,724.7 L792.5,723.4 L793.3,723.3 L794.1,726.1 L794.9,726.5 L795.7,725.7 L796.5,727.6 L797.3,726.9 L798.1,729.5 L798.9,727.6 L799.7,728.4 L800.5,729.2 L801.3,730.9 L802.1,724.0 L802.9,723.6 L803.7,720.6 L804.5,721.0 L805.3,716.1 L806.1,716.6 L806.9,716.2 L807.7,712.0 L808.5,708.9 L809.3,706.5 L810.1,700.9 L810.9,699.1 L811.7,697.4 L812.5,694.1 L813.3,688.9 L814.1,682.2 L814.9,681.7 L815.7,683.1 L816.5,683.9 L817.3,685.8 L818.1,688.1 L818.9,694.5 L819.7,696.3 L820.5,699.0 L821.3,702.8 L822.1,709.5 L822.9,710.0 L823.7,713.9 L824.5,713.3 L825.3,717.7 L826.1,716.5 L826.9,718.3 L827.7,723.2 L828.5,719.8 L829.3,716.7 L830.1,717.2 L830.9,718.2 L831.7,719.9 L832.5,717.5 L833.3,716.0 L834.1,719.1 L834.9,719.6 L835.7,719.6 L836.5,721.9 L837.3,720.5 L838.1,721.8 L838.9,719.4 L839.7,723.8 L840.5,726.4 L841.3,724.0 L842.1,722.8 L842.9,722.8 L843.7,726.2 L844.5,722.2 L845.3,724.2 L846.1,726.2 L846.9,727.5 L847.7,725.4 L848.5,725.9 L849.3,724.7 L850.1,726.3 L850.9,727.4 L851.7,726.7 L852.5,728.6 L853.3,729.8 L854.1,726.9 L854.9,728.8 L855.7,730.9 L856.5,728.5 L857.3,731.1 L858.1,729.4 L858.9,732.6 L859.7,733.6 L860.5,732.6 L861.3,729.1 L862.1,731.0 L862.9,729.7 L863.7,729.1 L864.5,731.3 L865.3,726.3 L866.1,729.8 L866.9,726.8 L867.7,727.8 L868.5,724.5 L869.3,721.9 L870.1,722.3 L870.9,722.1 L871.7,720.6 L872.5,721.6 L873.3,720.3 L874.1,718.0 L874.9,723.5 L875.7,723.6 L876.5,723.7 L877.3,725.2 L878.1,728.6 L878.9,727.3 L879.7,727.6 L880.5,728.7 L881.3,731.2 L882.1,727.2 L882.9,732.3 L883.7,730.0 L884.5,729.9 L885.3,734.1 L886.1,731.8 L886.9,729.6 L887.7,731.4 L888.5,734.1 L889.3,734.6 L890.1,732.3 L890.9,734.6 L891.7,735.8 L892.5,733.2 L893.3,734.3 L894.1,733.9 L894.9,733.5 L895.7,733.6 L896.5,734.1 L897.3,734.0 L898.1,733.4 L898.9,733.7 L899.7,735.5 L900.5,732.8 L901.3,733.4 L902.1,734.1 L902.9,733.2 L903.7,735.7 L904.5,729.6 L905.3,731.8 L906.1,729.7 L906.9,733.2 L907.7,732.4 L908.5,725.6 L909.3,727.2 L910.1,730.1 L910.9,730.3 L911.7,730.2 L912.5,728.9 L913.3,729.7 L914.1,729.7 L914.9,728.3 L915.7,730.2 L916.5,724.3 L917.3,728.7 L918.1,725.4 L918.9,729.0 L919.7,727.5 L920.5,726.7 L921.3,728.7 L922.1,726.2 L922.9,726.5 L923.7,725.8 L924.5,728.3 L925.3,727.9 L926.1,727.4 L926.9,724.8 L927.7,726.7 L928.5,724.7 L929.3,723.7 L930.1,724.0 L930.9,724.2 L931.7,721.2 L932.5,720.6 L933.3,719.5 L934.1,718.3 L934.9,715.1 L935.7,717.0 L936.5,713.4 L937.3,713.4 L938.1,709.0 L938.9,707.9 L939.7,704.0 L940.5,698.5 L941.3,698.6 L942.1,691.2 L942.9,685.4 L943.7,670.8 L944.5,653.3 L945.3,639.7 L946.1,625.9 L946.9,608.7 L947.7,590.8 L948.5,571.5 L949.3,551.2 L950.1,537.8 L950.9,519.9 L951.7,508.6 L952.5,491.5 L953.3,478.4 L954.1,469.5 L954.9,465.3 L955.7,464.3 L956.5,472.4 L957.3,486.1 L958.1,499.2 L958.9,516.8 L959.7,536.5 L960.5,549.4 L961.3,570.7 L962.1,584.6 L962.9,602.7 L963.7,613.9 L964.5,625.2 L965.3,636.5 L966.1,649.7 L966.9,653.7 L967.7,655.3 L968.5,655.3 L969.3,660.2 L970.1,660.3 L970.9,662.4 L971.7,660.5 L972.5,663.1 L973.3,656.9 L974.1,660.7 L974.9,668.6 L975.7,674.6 L976.5,681.8 L977.3,689.1 L978.1,689.5 L978.9,694.2 L979.7,699.4 L980.5,697.6 L981.3,693.9 L982.1,695.1 L982.9,697.0 L983.7,700.0 L984.5,697.1 L985.3,697.7 L986.1,701.3 L986.9,702.6 L987.7,702.2 L988.5,703.4 L989.3,705.4 L990.1,709.3 L990.9,708.4 L991.7,714.3 L992.5,712.9 L993.3,716.6 L994.1,721.5 L994.9,722.8 L995.7,720.6 L996.5,724.6 L997.3,725.2 L998.1,722.2 L998.9,722.3 L999.7,723.9 L1000.5,721.5 L1001.3,727.0 L1002.1,720.8 L1002.9,723.1 L1003.7,724.3 L1004.5,723.8 L1005.3,723.6 L1006.1,722.3 L1006.9,719.5 L1007.7,719.9 L1008.5,712.8 L1009.3,714.7 L1010.1,711.0 L1010.9,709.0 L1011.7,705.4 L1012.5,700.0 L1013.3,696.7 L1014.1,694.1 L1014.9,687.4 L1015.7,680.0 L1016.5,680.0 L1017.3,675.8 L1018.1,665.7 L1018.9,666.4 L1019.7,669.2 L1020.5,667.5 L1021.3,669.4 L1022.1,672.2 L1022.9,675.1 L1023.7,679.0 L1024.5,682.4 L1025.3,688.8 L1026.1,690.6 L1026.9,693.8 L1027.7,694.9 L1028.5,699.2 L1029.3,701.0 L1030.1,706.3 L1030.9,712.6 L1031.7,714.9 L1032.5,717.7 L1033.3,719.9 L1034.1,722.2 L1034.9,724.0 L1035.7,724.6 L1036.5,726.8 L1037.3,724.1 L1038.1,728.8 L1038.9,727.3 L1039.7,726.7 L1040.5,728.1 L1041.3,728.5 L1042.1,730.4 L1042.9,729.2 L1043.7,732.2 L1044.5,728.2 L1045.3,724.9 L1046.1,727.8 L1046.9,726.7 L1047.7,730.7 L1048.5,732.4 L1049.3,731.4 L1050.1,728.1 L1050.9,729.2 L1051.7,733.4 L1052.5,730.7 L1053.3,730.3 L1054.1,732.2 L1054.9,734.3 L1055.7,732.3 L1056.5,730.6 L1057.3,731.4 L1058.1,732.3 L1058.9,730.8 L1059.7,730.4 L1060.5,731.9 L1061.3,729.4 L1062.1,730.4 L1062.9,731.1 L1063.7,735.7 L1064.5,730.8 L1065.3,731.5 L1066.1,730.6 L1066.9,731.3 L1067.7,732.8 L1068.5,730.6 L1069.3,730.0 L1070.1,728.6 L1070.9,729.8 L1071.7,732.0 L1072.5,730.9 L1073.3,729.0 L1074.1,730.4 L1074.9,731.6 L1075.7,732.8 L1076.5,730.4 L1077.3,729.5 L1078.1,725.7 L1078.9,726.5 L1079.7,730.9 L1080.5,723.4 L1081.3,725.2 L1082.1,725.2 L1082.9,724.1 L1083.7,723.9 L1084.5,725.6 L1085.3,725.6 L1086.1,725.2 L1086.9,721.9 L1087.7,724.8 L1088.5,723.8 L1089.3,724.7 L1090.1,726.6 L1090.9,727.3 L1091.7,727.2 L1092.5,724.1 L1093.3,725.8 L1094.1,726.2 L1094.9,727.0 L1095.7,728.8 L1096.5,726.9 L1097.3,726.6 L1098.1,727.5 L1098.9,722.9 L1099.7,725.2 L1100.5,723.9 L1101.3,724.3 L1102.1,721.9 L1102.9,722.8 L1103.7,723.3 L1104.5,723.9 L1105.3,723.4 L1106.1,721.6 L1106.9,721.8 L1107.7,721.2 L1108.5,723.5 L1109.3,722.3 L1110.1,723.6 L1110.9,725.0 L1111.7,721.2 L1112.5,717.4 L1113.3,716.9 L1114.1,713.5 L1114.9,711.1 L1115.7,712.3 L1116.5,707.9 L1117.3,702.7 L1118.1,704.0 L1118.9,702.3 L1119.7,696.4 L1120.5,692.6 L1121.3,689.6 L1122.1,686.8 L1122.9,683.4 L1123.7,680.6 L1124.5,676.9 L1125.3,673.5 L1126.1,671.1 L1126.9,668.3 L1127.7,663.8 L1128.5,666.2 L1129.3,667.7 L1130.1,668.3 L1130.9,672.5 L1131.7,671.6 L1132.5,671.1 L1133.3,675.3 L1134.1,674.4 L1134.9,674.6 L1135.7,677.1 L1136.5,678.2 L1137.3,677.2 L1138.1,669.6 L1138.9,667.2 L1139.7,661.0 L1140.5,653.6 L1141.3,649.7 L1142.1,643.9 L1142.9,632.8 L1143.7,624.5 L1144.5,624.4 L1145.3,616.5 L1146.1,613.6 L1146.9,617.3 L1147.7,621.5 L1148.5,625.8 L1149.3,635.9 L1150.1,641.4 L1150.9,647.0 L1151.7,653.7 L1152.5,659.4 L1153.3,662.0 L1154.1,668.2 L1154.9,671.5 L1155.7,680.4 L1156.5,678.7 L1157.3,686.8 L1158.1,688.7 L1158.9,692.8 L1159.7,698.0 L1160.5,701.7 L1161.3,705.9 L1162.1,707.9 L1162.9,709.1 L1163.7,711.1 L1164.5,714.5 L1165.3,716.6 L1166.1,720.1 L1166.9,720.1 L1167.7,722.5 L1168.5,724.3 L1169.3,722.8 L1170.1,721.1 L1170.9,723.4 L1171.7,725.0 L1172.5,731.4 L1173.3,727.7 L1174.1,731.6 L1174.9,730.6 L1175.7,733.1 L1176.5,733.0 L1177.3,732.2 L1178.1,732.5 L1178.9,733.0 L1179.7,733.3 L1180.5,732.5 L1181.3,733.9 L1182.1,737.4 L1182.9,732.2 L1183.7,735.5 L1184.5,733.6 L1185.3,735.9 L1186.1,737.7 L1186.9,736.7 L1187.7,737.7 L1188.5,732.7 L1189.3,736.9 L1190.1,734.5 L1190.9,736.8 L1191.7,735.3 L1192.5,729.9 L1193.3,733.4 L1194.1,735.7 L1194.9,738.1 L1195.7,736.2 L1196.5,736.7 L1197.3,734.3 L1198.1,738.8 L1198.9,739.2 L1199.7,736.5 L1200.5,736.7 L1201.3,734.2 L1202.1,737.4 L1202.9,739.7 L1203.7,736.4 L1204.5,737.8 L1205.3,737.1 L1206.1,734.8 L1206.9,738.9 L1207.7,734.6 L1208.5,736.2 L1209.3,736.7 L1210.1,737.5 L1210.9,737.0 L1211.7,737.1 L1212.5,734.9 L1213.3,733.7 L1214.1,736.1 L1214.9,734.5 L1215.7,732.8 L1216.5,733.0 L1217.3,735.2 L1218.1,733.7 L1218.9,734.7 L1219.7,733.8 L1220.5,736.2 L1221.3,736.0 L1222.1,738.3 L1222.9,732.5 L1223.7,734.3 L1224.5,737.3 L1225.3,735.2 L1226.1,734.6 L1226.9,737.4 L1227.7,733.1 L1228.5,730.7 L1229.3,729.5 L1230.1,731.9 L1230.9,731.6 L1231.7,728.3 L1232.5,728.0 L1233.3,729.3 L1234.1,727.8 L1234.9,723.8 L1235.7,724.2 L1236.5,722.6 L1237.3,717.3 L1238.1,718.7 L1238.9,718.5 L1239.7,714.7 L1240.5,709.6 L1241.3,710.8 L1242.1,711.4 L1242.9,712.1 L1243.7,705.0 L1244.5,712.4 L1245.3,705.5 L1246.1,708.4 L1246.9,708.4 L1247.7,708.1 L1248.5,707.7 L1249.3,707.3 L1250.1,712.2 L1250.9,711.5 L1251.7,709.5 L1252.5,719.6 L1253.3,717.1 L1254.1,720.0 L1254.9,716.2 L1255.7,720.6 L1256.5,721.1 L1257.3,721.5 L1258.1,719.4 L1258.9,717.2 L1259.7,717.7 L1260.5,712.6 L1261.3,711.2 L1262.1,711.4 L1262.9,706.7 L1263.7,705.8 L1264.5,704.0 L1265.3,705.9 L1266.1,703.4 L1266.9,699.4 L1267.7,699.6 L1268.5,695.1 L1269.3,695.9 L1270.1,699.3 L1270.9,697.5 L1271.7,701.8 L1272.5,703.1 L1273.3,708.4 L1274.1,712.9 L1274.9,710.6 L1275.7,714.7 L1276.5,715.8 L1277.3,717.7 L1278.1,717.8 L1278.9,720.7 L1279.7,720.2 L1280.5,715.2 L1281.3,711.4 L1282.1,712.1 L1282.9,709.0 L1283.7,709.7 L1284.5,707.1 L1285.3,704.9 L1286.1,703.6 L1286.9,700.1 L1287.7,699.5 L1288.5,697.2 L1289.3,700.3 L1290.1,700.3 L1290.9,705.1 L1291.7,707.0 L1292.5,712.1 L1293.3,714.8 L1294.1,712.6 L1294.9,714.9 L1295.7,716.5 L1296.5,721.5 L1297.3,725.1 L1298.1,725.0 L1298.9,722.9 L1299.7,724.7 L1300.5,717.4 L1301.3,719.7 L1302.1,712.9 L1302.9,706.6 L1303.7,714.1 L1304.5,711.3 L1305.3,706.0 L1306.1,707.4 L1306.9,705.9 L1307.7,705.1 L1308.5,700.7 L1309.3,700.5 L1310.1,701.5 L1310.9,700.6 L1311.7,702.5 L1312.5,702.0 L1313.3,708.2 L1314.1,705.7 L1314.9,709.5 L1315.7,707.1 L1316.5,709.0 L1317.3,714.5 L1318.1,712.2 L1318.9,716.4 L1319.7,717.1 L1320.5,717.2 L1321.3,720.0 L1322.1,720.9 L1322.9,721.8 L1323.7,725.3 L1324.5,727.0 L1325.3,726.9 L1326.1,727.7 L1326.9,731.0 L1327.7,731.6 L1328.5,734.5 L1329.3,737.7 L1330.1,734.3 L1330.9,732.5 L1331.7,732.0 L1332.5,730.8 L1333.3,730.6 L1334.1,730.5 L1334.9,731.5 L1335.7,730.8 L1336.5,731.7 L1337.3,729.0 L1338.1,729.2 L1338.9,727.2 L1339.7,731.4 L1340.5,728.0 L1341.3,727.1 L1342.1,721.8 L1342.9,719.2 L1343.7,711.5 L1344.5,710.7 L1345.3,716.3 L1346.1,714.0 L1346.9,722.0 L1347.7,726.7 L1348.5,727.0 L1349.3,728.0 L1350.1,729.3 L1350.9,727.2 L1351.7,730.8 L1352.5,730.0 L1353.3,731.4 L1354.1,732.3 L1354.9,733.6 L1355.7,733.9 L1356.5,734.6 L1357.3,732.0 L1358.1,738.4 L1358.9,737.2 L1359.7,737.0 L1360.5,735.8 L1361.3,736.3 L1362.1,737.0 L1362.9,736.9 L1363.7,733.6 L1364.5,737.6 L1365.3,740.9 L1366.1,732.3 L1366.9,737.4 L1367.7,736.3 L1368.5,734.7 L1369.3,735.9 L1370.1,730.7 L1370.9,733.3 L1371.7,735.9 L1372.5,732.8 L1373.3,731.8 L1374.1,732.0 L1374.9,730.0 L1375.7,732.4 L1376.5,727.2 L1377.3,729.7 L1378.1,725.5 L1378.9,727.9 L1379.7,724.9 L1380.5,718.9 L1381.3,722.4 L1382.1,720.1 L1382.9,720.6 L1383.7,723.0 L1384.5,717.3 L1385.3,716.8 L1386.1,720.6 L1386.9,717.7 L1387.7,719.2 L1388.5,715.6 L1389.3,712.0 L1390.1,712.3 L1390.9,713.9 L1391.7,712.4 L1392.5,708.5 L1393.3,705.9 L1394.1,703.3 L1394.9,701.5 L1395.7,706.1 L1396.5,703.3 L1397.3,701.6 L1398.1,703.5 L1398.9,707.3 L1399.7,709.4 L1400.5,710.1 L1401.3,710.3 L1402.1,712.4 L1402.9,710.7 L1403.7,713.2 L1404.5,718.3 L1405.3,716.3 L1406.1,716.9 L1406.9,717.5 L1407.7,715.8 L1408.5,713.6 L1409.3,715.3 L1410.1,710.1 L1410.9,706.3 L1411.7,706.9 L1412.5,705.8 L1413.3,703.7 L1414.1,705.5 L1414.9,704.7 L1415.7,700.8 L1416.5,703.2 L1417.3,702.3 L1418.1,700.8 L1418.9,696.7 L1419.7,696.7 L1420.5,694.9 L1421.3,693.5 L1422.1,690.0 L1422.9,691.5 L1423.7,685.9 L1424.5,684.7 L1425.3,684.9 L1426.1,679.5 L1426.9,678.3 L1427.7,679.9 L1428.5,676.9 L1429.3,678.0 L1430.1,681.1 L1430.9,685.3 L1431.7,682.6 L1432.5,688.5 L1433.3,691.8 L1434.1,695.0 L1434.9,698.3 L1435.7,701.5 L1436.5,706.4 L1437.3,707.1 L1438.1,712.3 L1438.9,716.6 L1439.7,717.7 L1440.5,721.7 L1441.3,726.3 L1442.1,725.5 L1442.9,724.6 L1443.7,726.0 L1444.5,725.5 L1445.3,728.9 L1446.1,730.9 L1446.9,728.3 L1447.7,729.4 L1448.5,731.8 L1449.3,729.4 L1450.1,731.4 L1450.9,730.1 L1451.7,730.9 L1452.5,731.5 L1453.3,736.1 L1454.1,732.0 L1454.9,732.5 L1455.7,733.3 L1456.5,734.5 L1457.3,735.9 L1458.1,735.0 L1458.9,737.9 L1459.7,734.8 L1460.5,737.2 L1461.3,735.9 L1462.1,737.1 L1462.9,733.8 L1463.7,735.8 L1464.5,735.5 L1465.3,734.7 L1466.1,730.5 L1466.9,734.4 L1467.7,730.6 L1468.5,728.9 L1469.3,727.7 L1470.1,726.4 L1470.9,726.4 L1471.7,722.3 L1472.5,720.9 L1473.3,720.0 L1474.1,716.7 L1474.9,713.5 L1475.7,711.1 L1476.5,708.3 L1477.3,707.2 L1478.1,706.6 L1478.9,699.9 L1479.7,701.8 L1480.5,699.1 L1481.3,696.4 L1482.1,698.6 L1482.9,695.5 L1483.7,696.4 L1484.5,699.5 L1485.3,703.7 L1486.1,706.2 L1486.9,708.1 L1487.7,711.4 L1488.5,709.8 L1489.3,716.6 L1490.1,715.9 L1490.9,719.3 L1491.7,720.9 L1492.5,720.2 L1493.3,720.7 L1494.1,722.9 L1494.9,726.3 L1495.7,728.7 L1496.5,729.4 L1497.3,726.9 L1498.1,727.2 L1498.9,726.8 L1499.7,728.9 L1500.5,725.1 L1501.3,731.7 L1502.1,729.6 L1502.9,729.8 L1503.7,732.2 L1504.5,733.6 L1505.3,732.0 L1506.1,732.5 L1506.9,730.9 L1507.7,733.0 L1508.5,733.4 L1509.3,731.6 L1510.1,734.5 L1510.9,732.4 L1511.7,732.0 L1512.5,729.8 L1513.3,730.6 L1514.1,732.1 L1514.9,728.4 L1515.7,731.8 L1516.5,731.6 L1517.3,731.8 L1518.1,727.5 L1518.9,730.7 L1519.7,731.3 L1520.5,728.4 L1521.3,729.5 L1522.1,724.8 L1522.9,730.0 L1523.7,728.1 L1524.5,731.4 L1525.3,727.4 L1526.1,732.1 L1526.9,730.5 L1527.7,731.7 L1528.5,728.0 L1529.3,727.8 L1530.1,731.9 L1530.9,725.7 L1531.7,724.9 L1532.5,724.5 L1533.3,721.4 L1534.1,722.6 L1534.9,720.6 L1535.7,713.0 L1536.5,707.5 L1537.3,708.1 L1538.1,703.0 L1538.9,696.8 L1539.7,691.4 L1540.5,681.4 L1541.3,675.5 L1542.1,666.3 L1542.9,659.5 L1543.7,657.2 L1544.5,648.5 L1545.3,648.0 L1546.1,638.6 L1546.9,631.5 L1547.7,630.2 L1548.5,631.8 L1549.3,633.2 L1550.1,636.0 L1550.9,644.7 L1551.7,653.2 L1552.5,658.9 L1553.3,667.0 L1554.1,676.3 L1554.9,679.0 L1555.7,680.3 L1556.5,684.2 L1557.3,686.1 L1558.1,690.7 L1558.9,693.2 L1559.7,697.2 L1560.5,698.5 L1561.3,697.4 L1562.1,704.3 L1562.9,708.6 L1563.7,709.9 L1564.5,711.6 L1565.3,709.2 L1566.1,708.9 L1566.9,712.7 L1567.7,709.6 L1568.5,707.8 L1569.3,713.6 L1570.1,711.2 L1570.9,711.7 L1571.7,709.2 L1572.5,709.0 L1573.3,709.5 L1574.1,711.3 L1574.9,712.6 L1575.7,707.7 L1576.5,712.1 L1577.3,708.1 L1578.1,708.1 L1578.9,710.8 L1579.7,708.5 L1580.5,704.1 L1581.3,707.0 L1582.1,699.1 L1582.9,697.5 L1583.7,694.3 L1584.5,693.6 L1585.3,687.7 L1586.1,686.7 L1586.9,679.8 L1587.7,679.1 L1588.5,672.2 L1589.3,669.8 L1590.1,671.1 L1590.9,666.0 L1591.7,663.4 L1592.5,664.8 L1593.3,659.9 L1594.1,656.8 L1594.9,659.2 L1595.7,655.5 L1596.5,658.1 L1597.3,655.9 L1598.1,650.8 L1598.9,649.3 L1599.7,650.0 L1600.5,649.2 L1601.3,646.7 L1602.1,648.2 L1602.9,642.3 L1603.7,643.8 L1604.5,642.9 L1605.3,642.4 L1606.1,642.9 L1606.9,640.0 L1607.7,643.7 L1608.5,644.0 L1609.3,645.4 L1610.1,646.3 L1610.9,648.3 L1611.7,652.8 L1612.5,653.2 L1613.3,657.5 L1614.1,661.3 L1614.9,662.5 L1615.7,663.2 L1616.5,658.1 L1617.3,653.8 L1618.1,654.1 L1618.9,649.2 L1619.7,645.9 L1620.5,638.7 L1621.3,636.1 L1622.1,632.0 L1622.9,628.0 L1623.7,622.8 L1624.5,617.5 L1625.3,613.1 L1626.1,610.5 L1626.9,610.0 L1627.7,605.6 L1628.5,608.0 L1629.3,604.9 L1630.1,609.7 L1630.9,612.9 L1631.7,619.3 L1632.5,629.7 L1633.3,631.2 L1634.1,634.5 L1634.9,640.0 L1635.7,645.1 L1636.5,653.8 L1637.3,656.0 L1638.1,664.5 L1638.9,669.1 L1639.7,678.8 L1640.5,685.4 L1641.3,692.3 L1642.1,692.5 L1642.9,698.2 L1643.7,700.1 L1644.5,699.6 L1645.3,703.5 L1646.1,705.8 L1646.9,704.6 L1647.7,711.1 L1648.5,712.3 L1649.3,712.0 L1650.1,711.7 L1650.9,717.1 L1651.7,715.1 L1652.5,716.0 L1653.3,715.8 L1654.1,711.8 L1654.9,714.0 L1655.7,713.1 L1656.5,714.5 L1657.3,714.8 L1658.1,714.6 L1658.9,715.9 L1659.7,714.2 L1660.5,714.3 L1661.3,714.9 L1662.1,716.3 L1662.9,714.5 L1663.7,715.7 L1664.5,716.9 L1665.3,715.8 L1666.1,715.6 L1666.9,714.2 L1667.7,719.0 L1668.5,718.9 L1669.3,718.5 L1670.1,718.0 L1670.9,722.1 L1671.7,719.8 L1672.5,720.3 L1673.3,721.4 L1674.1,721.1 L1674.9,723.0 L1675.7,721.3 L1676.5,725.8 L1677.3,721.2 L1678.1,724.2 L1678.9,721.5 L1679.7,725.7 L1680.5,720.7 L1681.3,720.0 L1682.1,721.2 L1682.9,721.8 L1683.7,717.8 L1684.5,719.0 L1685.3,717.1 L1686.1,719.2 L1686.9,718.2 L1687.7,717.2 L1688.5,716.4 L1689.3,717.4 L1690.1,717.8 L1690.9,721.3 L1691.7,724.5 L1692.5,719.8 L1693.3,723.7 L1694.1,723.1 L1694.9,724.6 L1695.7,722.6 L1696.5,725.1 L1697.3,725.0 L1698.1,729.0 L1698.9,728.2 L1699.7,727.6 L1700.5,728.6 L1701.3,728.6 L1702.1,727.5 L1702.9,731.5 L1703.7,731.0 L1704.5,730.5 L1705.3,733.1 L1706.1,733.6 L1706.9,729.5 L1707.7,730.2 L1708.5,734.9 L1709.3,735.5 L1710.1,732.1 L1710.9,731.2 L1711.7,731.8 L1712.5,732.0 L1713.3,730.2 L1714.1,733.0 L1714.9,730.5 L1715.7,730.4 L1716.5,734.3 L1717.3,732.1 L1718.1,733.6 L1718.9,734.8 L1719.7,734.6 L1720.5,732.3 L1721.3,733.0 L1722.1,731.7 L1722.9,735.8 L1723.7,733.8 L1724.5,731.1 L1725.3,733.2 L1726.1,734.1 L1726.9,733.1 L1727.7,735.1 L1728.5,734.1 L1729.3,730.9 L1730.1,731.8 L1730.9,729.7 L1731.7,732.2 L1732.5,732.4 L1733.3,737.2 L1734.1,733.2 L1734.9,729.3 L1735.7,731.0 L1736.5,731.6 L1737.3,729.4 L1738.1,731.2 L1738.9,732.9 L1739.7,734.2 L1740.5,732.8 L1741.3,731.1 L1742.1,733.9 L1742.9,731.7 L1743.7,732.0 L1744.5,730.6 L1745.3,731.5 L1746.1,733.6 L1746.9,729.1 L1747.7,731.6 L1748.5,733.8 L1749.3,733.5 L1750.1,735.2 L1750.9,732.0 L1751.7,734.5 L1752.5,733.1 L1753.3,730.9 L1754.1,727.0 L1754.9,727.7 L1755.7,731.1 L1756.5,732.8 L1757.3,730.6 L1758.1,731.8 L1758.9,727.5 L1759.7,726.8 L1760.5,726.3 L1761.3,727.1 L1762.1,724.4 L1762.9,729.0 L1763.7,729.5 L1764.5,724.8 L1765.3,724.0 L1766.1,726.4 L1766.9,724.8 L1767.7,722.6 L1768.5,728.9 L1769.3,727.8 L1770.1,726.1 L1770.9,730.6 L1771.7,727.7 L1772.5,726.0 L1773.3,726.6 L1774.1,724.3 L1774.9,725.3 L1775.7,727.5 L1776.5,725.8 L1777.3,726.0 L1778.1,730.3 L1778.9,729.0 L1779.7,728.0 L1780.5,726.0 L1781.3,724.8 L1782.1,725.4 L1782.9,721.3 L1783.7,722.5 L1784.5,715.7 L1785.3,715.3 L1786.1,711.8 L1786.9,712.2 L1787.7,712.3 L1788.5,712.8 L1789.3,708.5 L1790.1,709.0 L1790.9,707.3 L1791.7,705.4 L1792.5,703.6 L1793.3,704.9 L1794.1,701.7 L1794.9,705.8 L1795.7,707.8 L1796.5,709.0 L1797.3,709.7 L1798.1,709.8 L1798.9,716.3 L1799.7,712.4 L1800.5,719.0 L1801.3,718.8 L1802.1,718.3 L1802.9,718.6 L1803.7,724.7 L1804.5,728.2 L1805.3,725.0 L1806.1,726.4 L1806.9,729.1 L1807.7,728.9 L1808.5,732.6 L1809.3,728.5 L1810.1,730.2 L1810.9,727.3 L1811.7,734.0 L1812.5,730.5 L1813.3,728.7 L1814.1,732.3 L1814.9,732.6 L1815.7,736.7 L1816.5,733.4 L1817.3,734.4 L1818.1,736.2 L1818.9,739.0 L1819.7,736.9 L1820.5,739.1 L1821.3,738.3 L1822.1,737.0 L1822.9,737.8 L1823.7,738.1 L1824.5,737.2 L1825.3,741.7 L1826.1,738.2 L1826.9,743.2 L1827.7,743.4 L1828.5,741.9 L1829.3,741.0 L1830.1,742.2 L1830.9,743.2 L1831.7,743.1 L1832.5,742.0 L1833.3,743.6 L1834.1,741.3 L1834.9,742.2 L1835.7,738.0 L1836.5,741.1 L1837.3,740.0 L1838.1,739.4 L1838.9,742.5 L1839.7,741.5 L1840.5,735.0 L1841.3,739.4 L1842.1,736.5 L1842.9,740.3 L1843.7,742.2 L1844.5,737.2 L1845.3,738.3 L1846.1,737.7 L1846.9,738.6 L1847.7,739.3 L1848.5,740.9 L1849.3,737.4 L1850.1,742.0 L1850.9,737.8 L1851.7,739.7 L1852.5,740.8 L1853.3,739.5 L1854.1,736.4 L1854.9,737.3 L1855.7,738.3 L1856.5,738.5 L1857.3,739.8 L1858.1,735.4 L1858.9,738.4 L1859.7,738.9 L1860.5,739.4 L1861.3,740.1 L1862.1,741.9 L1862.9,739.9 L1863.7,740.6 L1864.5,740.4 L1865.3,742.3 L1866.1,735.4 L1866.9,740.1 L1867.7,737.1 L1868.5,737.2 L1869.3,736.7 L1870.1,735.8 L1870.9,738.0 L1871.7,736.4 L1872.5,737.5 L1873.3,734.3 L1874.1,739.9 L1874.9,738.0 L1875.7,736.7 L1876.5,735.5 L1877.3,735.1 L1878.1,734.0 L1878.9,734.1 L1879.7,734.2 L1880.5,733.0 L1881.3,729.8 L1882.1,730.8 L1882.9,729.1 L1883.7,730.8 L1884.5,733.7 L1885.3,731.0 L1886.1,728.8 L1886.9,726.1 L1887.7,725.8 L1888.5,724.1 L1889.3,726.4 L1890.1,722.4 L1890.9,723.1 L1891.7,721.5 L1892.5,721.8 L1893.3,722.6 L1894.1,717.5 L1894.9,716.3 L1895.7,713.9 L1896.5,715.2 L1897.3,710.6 L1898.1,709.0 L1898.9,706.9 L1899.7,705.3 L1900.5,707.3 L1901.3,709.9 L1902.1,702.4 L1902.9,703.6 L1903.7,699.9 L1904.5,695.3 L1905.3,694.7 L1906.1,692.6 L1906.9,689.1 L1907.7,690.3 L1908.5,679.9 L1909.3,679.3 L1910.1,675.0 L1910.9,670.5 L1911.7,670.1 L1912.5,670.0 L1913.3,668.0 L1914.1,668.8 L1914.9,670.5 L1915.7,668.0 L1916.5,676.9 L1917.3,681.2 L1918.1,681.4 L1918.9,683.9 L1919.7,682.2 L1920.5,686.3 L1921.3,686.9 L1922.1,689.4 L1922.9,694.7 L1923.7,694.3 L1924.5,697.8 L1925.3,696.1 L1926.1,699.4 L1926.9,699.7 L1927.7,697.9 L1928.5,697.1 L1929.3,700.4 L1930.1,693.2 L1930.9,691.2 L1931.7,689.9 L1932.5,692.0 L1933.3,692.3 L1934.1,687.7 L1934.9,684.8 L1935.7,685.0 L1936.5,687.7 L1937.3,685.3 L1938.1,691.0 L1938.9,693.6 L1939.7,694.1 L1940.5,697.2 L1941.3,699.2 L1942.1,703.0 L1942.9,702.2 L1943.7,710.3 L1944.5,711.8 L1945.3,714.6 L1946.1,718.2 L1946.9,718.5 L1947.7,717.2 L1948.5,716.0 L1949.3,716.8 L1950.1,720.5 L1950.9,720.7 L1951.7,717.3 L1952.5,716.9 L1953.3,713.4 L1954.1,714.1 L1954.9,714.8 L1955.7,712.5 L1956.5,712.3 L1957.3,713.6 L1958.1,712.5 L1958.9,710.9 L1959.7,712.8 L1960.5,711.2 L1961.3,712.8 L1962.1,710.4 L1962.9,709.4 L1963.7,709.6 L1964.5,708.9 L1965.3,708.3 L1966.1,709.3 L1966.9,711.7 L1967.7,711.7 L1968.5,713.1 L1969.3,708.7 L1970.1,711.4 L1970.9,712.0 L1971.7,713.7 L1972.5,713.4 L1973.3,714.0 L1974.1,716.2 L1974.9,715.2 L1975.7,713.7 L1976.5,719.0 L1977.3,719.3 L1978.1,716.9 L1978.9,719.6 L1979.7,716.9 L1980.5,719.6 L1981.3,716.9 L1982.1,715.8 L1982.9,716.8 L1983.7,716.2 L1984.5,717.4 L1985.3,716.6 L1986.1,715.1 L1986.9,712.2 L1987.7,705.2 L1988.5,711.1 L1989.3,708.0 L1990.1,711.2 L1990.9,711.2 L1991.7,708.5 L1992.5,706.7 L1993.3,706.7 L1994.1,706.1 L1994.9,703.3 L1995.7,700.4 L1996.5,697.2 L1997.3,698.7 L1998.1,695.2 L1998.9,695.4 L1999.7,691.9 L2000.5,691.1 L2001.3,688.6 L2002.1,687.6 L2002.9,686.3 L2003.7,683.9 L2004.5,681.8 L2005.3,681.6 L2006.1,686.0 L2006.9,683.3 L2007.7,684.2 L2008.5,688.5 L2009.3,689.4 L2010.1,689.9 L2010.9,689.5 L2011.7,695.0 L2012.5,692.7 L2013.3,694.2 L2014.1,694.2 L2014.9,692.8 L2015.7,693.6 L2016.5,697.3 L2017.3,697.5 L2018.1,696.4 L2018.9,694.5 L2019.7,693.2 L2020.5,693.2 L2021.3,689.3 L2022.1,692.0 L2022.9,691.4 L2023.7,693.0 L2024.5,688.3 L2025.3,684.4 L2026.1,682.2 L2026.9,676.2 L2027.7,679.6 L2028.5,679.2 L2029.3,680.3 L2030.1,678.7 L2030.9,677.4 L2031.7,675.5 L2032.5,675.1 L2033.3,675.1 L2034.1,669.6 L2034.9,670.0 L2035.7,668.6 L2036.5,674.3 L2037.3,674.5 L2038.1,674.3 L2038.9,672.1 L2039.7,675.4 L2040.5,675.1 L2041.3,675.4 L2042.1,675.1 L2042.9,677.2 L2043.7,676.2 L2044.5,678.4 L2045.3,677.1 L2046.1,676.2 L2046.9,676.9 L2047.7,676.8 L2048.5,678.6 L2049.3,675.6 L2050.1,674.6 L2050.9,671.0 L2051.7,666.8 L2052.5,668.9 L2053.3,663.6 L2054.1,663.7 L2054.9,660.0 L2055.7,653.3 L2056.5,651.6 L2057.3,650.0 L2058.1,647.4 L2058.9,644.9 L2059.7,646.9 L2060.5,645.6 L2061.3,648.5 L2062.1,649.7 L2062.9,654.1 L2063.7,655.5 L2064.5,659.6 L2065.3,663.0 L2066.1,664.6 L2066.9,667.1 L2067.7,670.2 L2068.5,676.3 L2069.3,679.7 L2070.1,681.5 L2070.9,683.9 L2071.7,689.6 L2072.5,696.3 L2073.3,694.7 L2074.1,698.9 L2074.9,702.5 L2075.7,701.3 L2076.5,709.5 L2077.3,710.8 L2078.1,716.4 L2078.9,715.8 L2079.7,717.3 L2080.5,720.5 L2081.3,723.2 L2082.1,724.0 L2082.9,726.5 L2083.7,725.1 L2084.5,727.3 L2085.3,729.8 L2086.1,733.1 L2086.9,732.3 L2087.7,732.5 L2088.5,734.4 L2089.3,734.0 L2090.1,734.9 L2090.9,734.0 L2091.7,732.1 L2092.5,733.2 L2093.3,734.0 L2094.1,735.0 L2094.9,735.3 L2095.7,733.6 L2096.5,731.7 L2097.3,734.7 L2098.1,732.8 L2098.9,736.7 L2099.7,737.0 L2100.5,735.0 L2101.3,740.0 L2102.1,741.1 L2102.9,740.3 L2103.7,743.0 L2104.5,743.0 L2105.3,738.0 L2106.1,742.2 L2106.9,741.7 L2107.7,742.1 L2108.5,743.4 L2109.3,740.9 L2110.1,740.9 L2110.9,739.8 L2111.7,739.4 L2112.5,740.4 L2113.3,738.1 L2114.1,739.0 L2114.9,742.1 L2115.7,741.1 L2116.5,741.6 L2117.3,737.4 L2118.1,739.4 L2118.9,739.9 L2119.7,740.7 L2120.5,739.2 L2121.3,741.8 L2122.1,740.0 L2122.9,739.7 L2123.7,739.1 L2124.5,740.4 L2125.3,739.2 L2126.1,742.4 L2126.9,741.4 L2127.7,741.1 L2128.5,741.5 L2129.3,743.2 L2130.1,744.4 L2130.9,743.9 L2131.7,742.1 L2132.5,742.4 L2133.3,741.2 L2134.1,743.2 L2134.9,740.6 L2135.7,736.4 L2136.5,741.4 L2137.3,739.2 L2138.1,737.1 L2138.9,738.9 L2139.7,737.9 L2140.5,743.4 L2141.3,741.1 L2142.1,737.8 L2142.9,741.1 L2143.7,739.4 L2144.5,743.5 L2145.3,738.7 L2146.1,736.9 L2146.9,741.4 L2147.7,741.1 L2148.5,741.0 L2149.3,738.3 L2150.1,743.1 L2150.9,745.0 L2151.7,738.2 L2152.5,742.9 L2153.3,739.8 L2154.1,744.6 L2154.9,740.9 L2155.7,739.4 L2156.5,740.9 L2157.3,739.0 L2158.1,736.2 L2158.9,738.0 L2159.7,736.4 L2160.5,735.2 L2161.3,741.9 L2162.1,737.1 L2162.9,735.5 L2163.7,736.5 L2164.5,732.8 L2165.3,732.2 L2166.1,732.1 L2166.9,730.4 L2167.7,729.8 L2168.5,729.9 L2169.3,725.6 L2170.1,726.3 L2170.9,725.7 L2171.7,721.8 L2172.5,722.8 L2173.3,719.4 L2174.1,720.8 L2174.9,716.9 L2175.7,713.4 L2176.5,709.2 L2177.3,709.8 L2178.1,706.3 L2178.9,706.7 L2179.7,703.2 L2180.5,700.6 L2181.3,702.7 L2182.1,701.8 L2182.9,698.8 L2183.7,700.9 L2184.5,698.0 L2185.3,697.7 L2186.1,698.4 L2186.9,697.4 L2187.7,699.3 L2188.5,701.9 L2189.3,707.2 L2190.1,708.8 L2190.9,706.5 L2191.7,710.0 L2192.5,708.1 L2193.3,710.5 L2194.1,712.9 L2194.9,712.8 L2195.7,717.0 L2196.5,714.1 L2197.3,712.9 L2198.1,718.3 L2198.9,716.4 L2199.7,717.8 L2200.5,714.6 L2201.3,722.8 L2202.1,723.6 L2202.9,724.5 L2203.7,725.5 L2204.5,727.2 L2205.3,724.7 L2206.1,726.9 L2206.9,724.9 L2207.7,726.8 L2208.5,730.6 L2209.3,730.9 L2210.1,728.7 L2210.9,731.5 L2211.7,730.5 L2212.5,729.9 L2213.3,733.1 L2214.1,732.8 L2214.9,732.1 L2215.7,734.1 L2216.5,739.7 L2217.3,734.5 L2218.1,737.8 L2218.9,738.8 L2219.7,739.5 L2220.5,737.1 L2221.3,739.2 L2222.1,740.5 L2222.9,742.5 L2223.7,740.4 L2224.5,738.6 L2225.3,741.0 L2226.1,740.8 L2226.9,739.9 L2227.7,738.5 L2228.5,740.1 L2229.3,739.6 L2230.1,740.6 L2230.9,736.6 L2231.7,738.3 L2232.5,737.8 L2233.3,736.7 L2234.1,739.4 L2234.9,739.0 L2235.7,737.8 L2236.5,739.1 L2237.3,736.3 L2238.1,738.6 L2238.9,739.0 L2239.7,738.1 L2240.5,738.8 L2241.3,734.5 L2242.1,733.5 L2242.9,736.2 L2243.7,736.6 L2244.5,739.5 L2245.3,737.1 L2246.1,734.2 L2246.9,736.5 L2247.7,733.5 L2248.5,732.1 L2249.3,738.5 L2250.1,734.2 L2250.9,734.9 L2251.7,734.6 L2252.5,736.4" fill="none" stroke="#f00" stroke-width="6.6" stroke-linejoin="round" stroke-linecap="butt"/>
<g font-family='"Liberation Serif","DejaVu Serif",serif' font-size="76" text-anchor="middle" fill="#000">
<text x="330.6" y="1495">20</text>
<text x="715.0" y="1495">30</text>
<text x="1099.4" y="1495">40</text>
<text x="1483.8" y="1495">50</text>
<text x="1868.2" y="1495">60</text>
<text x="2252.6" y="1495">70</text>
</g>
<g font-family='"Liberation Sans","DejaVu Sans",sans-serif' font-size="87" fill="#000">
<text x="837.5" y="1589.7" textLength="226" lengthAdjust="spacingAndGlyphs">Angle</text>
<text x="1085.5" y="1589.7" textLength="50" lengthAdjust="spacingAndGlyphs">2</text>
<text x="1136.2" y="1589.7" textLength="46" lengthAdjust="spacingAndGlyphs" font-family='"Liberation Serif","DejaVu Serif",serif'>θ</text>
<text x="1206" y="1589.7" textLength="347" lengthAdjust="spacingAndGlyphs">(Degree)</text>
</g>
<text transform="translate(89.2,750.9) rotate(-90)" text-anchor="middle" font-family='"Liberation Serif","DejaVu Serif",serif' font-size="88.5" fill="#000" textLength="613" lengthAdjust="spacingAndGlyphs">Intensity (counts)</text>
<g font-family='"Liberation Serif","DejaVu Serif",serif' font-size="63.5" text-anchor="middle" fill="#000">
<text transform="translate(232.8,638.0) rotate(-90)" textLength="132.5" lengthAdjust="spacingAndGlyphs">(010)</text>
<text transform="translate(304.0,435.0) rotate(-90)" textLength="132.5" lengthAdjust="spacingAndGlyphs">(100)</text>
<text transform="translate(487.8,412.6) rotate(-90)" textLength="132.5" lengthAdjust="spacingAndGlyphs">(011)</text>
<text transform="translate(554.5,418.0) rotate(-90)" textLength="132.5" lengthAdjust="spacingAndGlyphs">(110)</text>
<text transform="translate(766.0,116.9) rotate(-90)" textLength="132.5" lengthAdjust="spacingAndGlyphs">(111)</text>
<text transform="translate(846.8,614.5) rotate(-90)" textLength="132.5" lengthAdjust="spacingAndGlyphs">(020)</text>
<text transform="translate(976.0,403.2) rotate(-90)" textLength="132.5" lengthAdjust="spacingAndGlyphs">(002)</text>
<text transform="translate(1042.8,601.8) rotate(-90)" textLength="132.5" lengthAdjust="spacingAndGlyphs">(200)</text>
<text transform="translate(1135.0,562.0) rotate(-90)" textLength="132.5" lengthAdjust="spacingAndGlyphs">(102)</text>
<text transform="translate(1160.4,312.1) rotate(-90)" textLength="132.5" lengthAdjust="spacingAndGlyphs">(121)</text>
<text transform="translate(1241.8,623.5) rotate(-90)" textLength="132.5" lengthAdjust="spacingAndGlyphs">(112)</text>
<text transform="translate(1302.7,626.5) rotate(-90)" textLength="132.5" lengthAdjust="spacingAndGlyphs">(211)</text>
<text transform="translate(1416.0,370.6) rotate(-90)" textLength="132.5" lengthAdjust="spacingAndGlyphs">(030)</text>
<text transform="translate(1500.3,375.2) rotate(-90)" textLength="132.5" lengthAdjust="spacingAndGlyphs">(220)</text>
<text transform="translate(1463.4,606.4) rotate(-90)" textLength="132.5" lengthAdjust="spacingAndGlyphs">(022)</text>
<text transform="translate(1570.9,562.8) rotate(-90)" textLength="132.5" lengthAdjust="spacingAndGlyphs">(130)</text>
<text transform="translate(1668.2,541.0) rotate(-90)" textLength="132.5" lengthAdjust="spacingAndGlyphs">(202)</text>
<text transform="translate(1924.7,598.9) rotate(-90)" textLength="132.5" lengthAdjust="spacingAndGlyphs">(113)</text>
<text transform="translate(2082.8,421.4) rotate(-90)" textLength="132.5" lengthAdjust="spacingAndGlyphs">(023)</text>
<text transform="translate(2197.0,629.0) rotate(-90)" textLength="132.5" lengthAdjust="spacingAndGlyphs">(041)</text>
<text transform="translate(333.5,1067.5) rotate(-90)" textLength="132.5" lengthAdjust="spacingAndGlyphs">(100)</text>
<text transform="translate(490.3,1033.7) rotate(-90)" textLength="132.5" lengthAdjust="spacingAndGlyphs">(011)</text>
<text transform="translate(565.8,1035.8) rotate(-90)" textLength="132.5" lengthAdjust="spacingAndGlyphs">(110)</text>
<text transform="translate(820.5,866.0) rotate(-90)" textLength="132.5" lengthAdjust="spacingAndGlyphs">(111)</text>
<text transform="translate(983.2,1007.7) rotate(-90)" textLength="132.5" lengthAdjust="spacingAndGlyphs">(002)</text>
<text transform="translate(1104.3,1119.5) rotate(-90)" textLength="132.5" lengthAdjust="spacingAndGlyphs">(200)</text>
<text transform="translate(1190.8,1091.9) rotate(-90)" textLength="132.5" lengthAdjust="spacingAndGlyphs">(102)</text>
<text transform="translate(1301.4,1116.9) rotate(-90)" textLength="132.5" lengthAdjust="spacingAndGlyphs">(112)</text>
<text transform="translate(1376.9,1132.9) rotate(-90)" textLength="132.5" lengthAdjust="spacingAndGlyphs">(211)</text>
<text transform="translate(1483.5,1124.8) rotate(-90)" textLength="132.5" lengthAdjust="spacingAndGlyphs">(022)</text>
<text transform="translate(1598.5,1121.5) rotate(-90)" textLength="132.5" lengthAdjust="spacingAndGlyphs">(130)</text>
<text transform="translate(1687.1,1033.6) rotate(-90)" textLength="132.5" lengthAdjust="spacingAndGlyphs">(202)</text>
<text transform="translate(1986.8,1122.8) rotate(-90)" textLength="132.5" lengthAdjust="spacingAndGlyphs">(113)</text>
<text transform="translate(2122.6,1088.9) rotate(-90)" textLength="132.5" lengthAdjust="spacingAndGlyphs">(132)</text>
<text transform="translate(2225.2,1150.5) rotate(-90)" textLength="132.5" lengthAdjust="spacingAndGlyphs">(041)</text>
</g>
<line x1="1146.0" y1="616.8" x2="1145.8" y2="422.8" stroke="#00f" stroke-width="8" stroke-dasharray="8.1 6.3"/>
<polygon points="1145.8,374.8 1132.4,425.8 1159.2,425.8" fill="#00f"/>
<line x1="1398.1" y1="698.0" x2="1400.3" y2="481.7" stroke="#00f" stroke-width="8" stroke-dasharray="8.1 6.3"/>
<polygon points="1400.3,434.3 1386.9,484.7 1413.7,484.7" fill="#00f"/>
<line x1="1482.0" y1="700.6" x2="1482.0" y2="478.6" stroke="#00f" stroke-width="8" stroke-dasharray="8.1 6.3"/>
<polygon points="1482.0,429.2 1468.6,481.6 1495.4,481.6" fill="#00f"/>
<line x1="2062.0" y1="642.0" x2="2062.0" y2="524.0" stroke="#00f" stroke-width="8" stroke-dasharray="8.1 6.3"/>
<polygon points="2062.0,473.8 2048.6,527.0 2075.4,527.0" fill="#00f"/>
<rect x="1204.3" y="57.1" width="1031.4" height="223.6" fill="#fff" stroke="#000" stroke-width="2.6"/>
<line x1="1212.3" y1="107.9" x2="1381.5" y2="107.9" stroke="#f00" stroke-width="6.1"/>
<line x1="1212.3" y1="214.9" x2="1381.5" y2="214.9" stroke="#000" stroke-width="6.1"/>
<g font-family='"Liberation Serif","DejaVu Serif",serif' font-size="76.6" fill="#000">
<text y="133.2"><tspan x="1396.5">Ni</tspan><tspan x="1477" dy="18.8" font-size="48">1−x</tspan><tspan x="1551.5" dy="-18.8">Mn</tspan><tspan x="1655.6" dy="18.8" font-size="48">x</tspan><tspan x="1682.8" dy="-18.8" textLength="64.5" lengthAdjust="spacingAndGlyphs">W</tspan><tspan x="1749.6">O</tspan><tspan x="1803.6" dy="18.8" font-size="48">4</tspan></text>
<text y="240.2"><tspan x="1396.5">Ni</tspan><tspan x="1478.9" textLength="63.5" lengthAdjust="spacingAndGlyphs">W</tspan><tspan x="1543.6">O</tspan><tspan x="1596.9" dy="18.8" font-size="48">4</tspan><tspan x="1640.8" dy="-18.8" textLength="588" lengthAdjust="spacingAndGlyphs">(JCPDs # 0720480)</tspan></text>
</g>
</svg>
</body></html>
